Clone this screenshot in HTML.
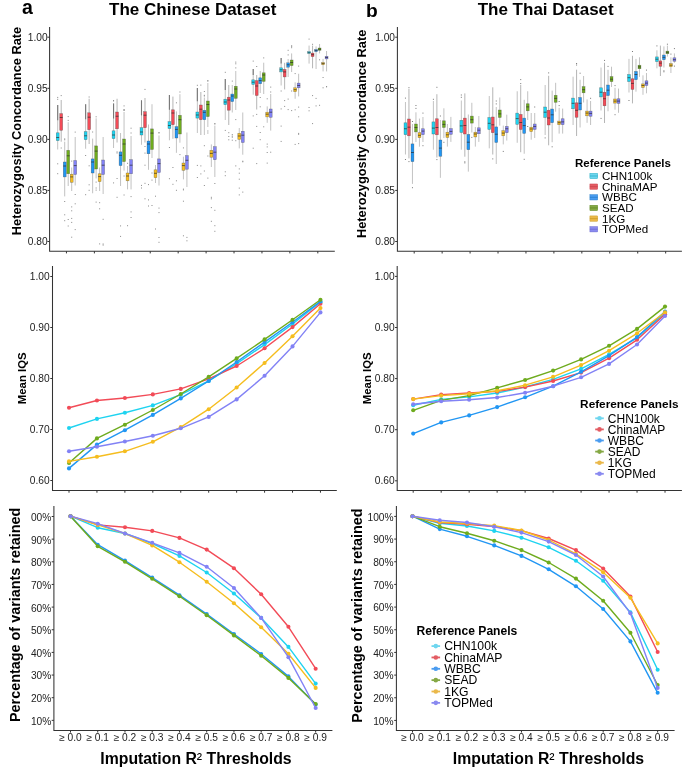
<!DOCTYPE html>
<html><head><meta charset="utf-8"><style>
html,body{margin:0;padding:0;background:#fff;}
svg{display:block;font-family:"Liberation Sans", sans-serif;will-change:transform;}
</style></head><body>
<svg width="685" height="767" viewBox="0 0 685 767">
<rect width="685" height="767" fill="#fff"/>
<text x="21.9" y="13.8" font-size="19.5" font-weight="bold" text-anchor="start" fill="#000" >a</text>
<text x="192.7" y="15.2" font-size="17" font-weight="bold" text-anchor="middle" fill="#000" >The Chinese Dataset</text>
<text x="365.9" y="16.8" font-size="19.2" font-weight="bold" text-anchor="start" fill="#000" >b</text>
<text x="545.7" y="15.2" font-size="17" font-weight="bold" text-anchor="middle" fill="#000" >The Thai Dataset</text>
<path d="M49.6,26.9V251.2H334.8" fill="none" stroke="#333" stroke-width="1.05"/>
<path d="M47.40,37.20H49.6" stroke="#333" stroke-width="1"/>
<path d="M47.40,88.30H49.6" stroke="#333" stroke-width="1"/>
<path d="M47.40,139.40H49.6" stroke="#333" stroke-width="1"/>
<path d="M47.40,190.40H49.6" stroke="#333" stroke-width="1"/>
<path d="M47.40,241.50H49.6" stroke="#333" stroke-width="1"/>
<path d="M66.45,251.2V253.40" stroke="#333" stroke-width="1"/>
<path d="M94.38,251.2V253.40" stroke="#333" stroke-width="1"/>
<path d="M122.31,251.2V253.40" stroke="#333" stroke-width="1"/>
<path d="M150.24,251.2V253.40" stroke="#333" stroke-width="1"/>
<path d="M178.17,251.2V253.40" stroke="#333" stroke-width="1"/>
<path d="M206.10,251.2V253.40" stroke="#333" stroke-width="1"/>
<path d="M234.03,251.2V253.40" stroke="#333" stroke-width="1"/>
<path d="M261.96,251.2V253.40" stroke="#333" stroke-width="1"/>
<path d="M289.89,251.2V253.40" stroke="#333" stroke-width="1"/>
<path d="M317.82,251.2V253.40" stroke="#333" stroke-width="1"/>
<text x="47.6" y="40.80" font-size="10.2" font-weight="normal" text-anchor="end" fill="#222" >1.00</text>
<text x="47.6" y="91.90" font-size="10.2" font-weight="normal" text-anchor="end" fill="#222" >0.95</text>
<text x="47.6" y="143.00" font-size="10.2" font-weight="normal" text-anchor="end" fill="#222" >0.90</text>
<text x="47.6" y="194.00" font-size="10.2" font-weight="normal" text-anchor="end" fill="#222" >0.85</text>
<text x="47.6" y="245.10" font-size="10.2" font-weight="normal" text-anchor="end" fill="#222" >0.80</text>
<path d="M57.70,105V149.5" stroke="#adadad" stroke-width="0.75"/>
<path d="M57.70,105V120.29" stroke="#777" stroke-width="1.1"/>
<rect x="57.20" y="173.2" width="1" height="1" fill="#8a8a8a"/>
<rect x="57.20" y="96.9" width="1" height="1" fill="#8a8a8a"/>
<rect x="57.20" y="98.8" width="1" height="1" fill="#8a8a8a"/>
<rect x="57.20" y="163.3" width="1" height="1" fill="#8a8a8a"/>
<path d="M61.20,100V141.7" stroke="#9c9c9c" stroke-width="0.75"/>
<rect x="60.70" y="147.5" width="1" height="1" fill="#8a8a8a"/>
<rect x="60.70" y="95.1" width="1" height="1" fill="#8a8a8a"/>
<path d="M64.70,141.7V196.4" stroke="#adadad" stroke-width="0.75"/>
<rect x="64.20" y="138.4" width="1" height="1" fill="#8a8a8a"/>
<rect x="64.20" y="220.2" width="1" height="1" fill="#8a8a8a"/>
<rect x="64.20" y="201.0" width="1" height="1" fill="#8a8a8a"/>
<rect x="64.20" y="214.3" width="1" height="1" fill="#8a8a8a"/>
<rect x="64.20" y="139.3" width="1" height="1" fill="#8a8a8a"/>
<path d="M68.20,122.2V186" stroke="#adadad" stroke-width="0.75"/>
<rect x="67.70" y="225.5" width="1" height="1" fill="#8a8a8a"/>
<rect x="67.70" y="116.1" width="1" height="1" fill="#8a8a8a"/>
<rect x="67.70" y="119.9" width="1" height="1" fill="#8a8a8a"/>
<rect x="67.70" y="219.0" width="1" height="1" fill="#8a8a8a"/>
<path d="M71.70,167.5V191" stroke="#adadad" stroke-width="0.75"/>
<rect x="71.20" y="160.6" width="1" height="1" fill="#8a8a8a"/>
<rect x="71.20" y="210.3" width="1" height="1" fill="#8a8a8a"/>
<rect x="71.20" y="217.9" width="1" height="1" fill="#8a8a8a"/>
<rect x="71.20" y="236.7" width="1" height="1" fill="#8a8a8a"/>
<rect x="71.20" y="206.4" width="1" height="1" fill="#8a8a8a"/>
<rect x="71.20" y="221.9" width="1" height="1" fill="#8a8a8a"/>
<path d="M75.20,137V185.5" stroke="#adadad" stroke-width="0.75"/>
<rect x="74.70" y="203.3" width="1" height="1" fill="#8a8a8a"/>
<rect x="74.70" y="194.0" width="1" height="1" fill="#8a8a8a"/>
<rect x="74.70" y="229.1" width="1" height="1" fill="#8a8a8a"/>
<rect x="74.70" y="131.6" width="1" height="1" fill="#8a8a8a"/>
<path d="M85.63,104.2V148.75" stroke="#adadad" stroke-width="0.75"/>
<path d="M85.63,104.2V119.27" stroke="#777" stroke-width="1.1"/>
<rect x="85.13" y="155.0" width="1" height="1" fill="#8a8a8a"/>
<rect x="85.13" y="194.2" width="1" height="1" fill="#8a8a8a"/>
<path d="M89.13,98.75V144" stroke="#9c9c9c" stroke-width="0.75"/>
<rect x="88.63" y="165.3" width="1" height="1" fill="#8a8a8a"/>
<rect x="88.63" y="189.8" width="1" height="1" fill="#8a8a8a"/>
<rect x="88.63" y="96.5" width="1" height="1" fill="#8a8a8a"/>
<rect x="88.63" y="184.3" width="1" height="1" fill="#8a8a8a"/>
<path d="M92.63,138.6V193.3" stroke="#adadad" stroke-width="0.75"/>
<rect x="92.13" y="131.5" width="1" height="1" fill="#8a8a8a"/>
<path d="M96.13,118.3V178.4" stroke="#adadad" stroke-width="0.75"/>
<rect x="95.63" y="201.6" width="1" height="1" fill="#8a8a8a"/>
<rect x="95.63" y="181.6" width="1" height="1" fill="#8a8a8a"/>
<rect x="95.63" y="189.6" width="1" height="1" fill="#8a8a8a"/>
<rect x="95.63" y="116.3" width="1" height="1" fill="#8a8a8a"/>
<rect x="95.63" y="187.5" width="1" height="1" fill="#8a8a8a"/>
<path d="M99.63,167.5V191" stroke="#adadad" stroke-width="0.75"/>
<rect x="99.13" y="243.4" width="1" height="1" fill="#8a8a8a"/>
<rect x="99.13" y="202.2" width="1" height="1" fill="#8a8a8a"/>
<rect x="99.13" y="208.3" width="1" height="1" fill="#8a8a8a"/>
<path d="M103.13,137V194" stroke="#adadad" stroke-width="0.75"/>
<rect x="102.63" y="243.5" width="1" height="1" fill="#8a8a8a"/>
<rect x="102.63" y="218.8" width="1" height="1" fill="#8a8a8a"/>
<rect x="102.63" y="244.6" width="1" height="1" fill="#8a8a8a"/>
<path d="M113.56,103.4V148" stroke="#adadad" stroke-width="0.75"/>
<path d="M113.56,103.4V118.47" stroke="#777" stroke-width="1.1"/>
<rect x="113.06" y="100.5" width="1" height="1" fill="#8a8a8a"/>
<rect x="113.06" y="100.0" width="1" height="1" fill="#8a8a8a"/>
<rect x="113.06" y="182.4" width="1" height="1" fill="#8a8a8a"/>
<path d="M117.06,98.75V142.5" stroke="#9c9c9c" stroke-width="0.75"/>
<rect x="116.56" y="152.5" width="1" height="1" fill="#8a8a8a"/>
<rect x="116.56" y="178.0" width="1" height="1" fill="#8a8a8a"/>
<rect x="116.56" y="151.4" width="1" height="1" fill="#8a8a8a"/>
<rect x="116.56" y="196.8" width="1" height="1" fill="#8a8a8a"/>
<path d="M120.56,133V186" stroke="#adadad" stroke-width="0.75"/>
<rect x="120.06" y="235.9" width="1" height="1" fill="#8a8a8a"/>
<rect x="120.06" y="225.4" width="1" height="1" fill="#8a8a8a"/>
<path d="M124.06,112V170.6" stroke="#adadad" stroke-width="0.75"/>
<rect x="123.56" y="194.5" width="1" height="1" fill="#8a8a8a"/>
<rect x="123.56" y="105.4" width="1" height="1" fill="#8a8a8a"/>
<rect x="123.56" y="110.0" width="1" height="1" fill="#8a8a8a"/>
<rect x="123.56" y="109.2" width="1" height="1" fill="#8a8a8a"/>
<rect x="123.56" y="175.5" width="1" height="1" fill="#8a8a8a"/>
<rect x="123.56" y="109.3" width="1" height="1" fill="#8a8a8a"/>
<path d="M127.56,166V189.4" stroke="#adadad" stroke-width="0.75"/>
<rect x="127.06" y="225.2" width="1" height="1" fill="#8a8a8a"/>
<rect x="127.06" y="162.8" width="1" height="1" fill="#8a8a8a"/>
<path d="M131.06,136V189.4" stroke="#adadad" stroke-width="0.75"/>
<rect x="130.56" y="132.5" width="1" height="1" fill="#8a8a8a"/>
<rect x="130.56" y="211.4" width="1" height="1" fill="#8a8a8a"/>
<rect x="130.56" y="127.7" width="1" height="1" fill="#8a8a8a"/>
<rect x="130.56" y="217.0" width="1" height="1" fill="#8a8a8a"/>
<rect x="130.56" y="196.1" width="1" height="1" fill="#8a8a8a"/>
<path d="M141.49,100.3V144.8" stroke="#adadad" stroke-width="0.75"/>
<path d="M141.49,100.3V115.37" stroke="#777" stroke-width="1.1"/>
<rect x="140.99" y="187.5" width="1" height="1" fill="#8a8a8a"/>
<rect x="140.99" y="184.9" width="1" height="1" fill="#8a8a8a"/>
<path d="M144.99,98V142.5" stroke="#9c9c9c" stroke-width="0.75"/>
<rect x="144.49" y="88.9" width="1" height="1" fill="#8a8a8a"/>
<rect x="144.49" y="152.6" width="1" height="1" fill="#8a8a8a"/>
<rect x="144.49" y="146.0" width="1" height="1" fill="#8a8a8a"/>
<rect x="144.49" y="198.3" width="1" height="1" fill="#8a8a8a"/>
<rect x="144.49" y="182.8" width="1" height="1" fill="#8a8a8a"/>
<rect x="144.49" y="164.7" width="1" height="1" fill="#8a8a8a"/>
<path d="M148.49,124.5V169.8" stroke="#adadad" stroke-width="0.75"/>
<rect x="147.99" y="184.1" width="1" height="1" fill="#8a8a8a"/>
<rect x="147.99" y="199.4" width="1" height="1" fill="#8a8a8a"/>
<rect x="147.99" y="205.5" width="1" height="1" fill="#8a8a8a"/>
<path d="M151.99,104.2V158" stroke="#adadad" stroke-width="0.75"/>
<rect x="151.49" y="205.0" width="1" height="1" fill="#8a8a8a"/>
<rect x="151.49" y="172.5" width="1" height="1" fill="#8a8a8a"/>
<rect x="151.49" y="179.6" width="1" height="1" fill="#8a8a8a"/>
<path d="M155.49,165V183" stroke="#adadad" stroke-width="0.75"/>
<rect x="154.99" y="228.5" width="1" height="1" fill="#8a8a8a"/>
<rect x="154.99" y="195.7" width="1" height="1" fill="#8a8a8a"/>
<path d="M158.99,135.5V185.5" stroke="#adadad" stroke-width="0.75"/>
<rect x="158.49" y="212.1" width="1" height="1" fill="#8a8a8a"/>
<rect x="158.49" y="241.8" width="1" height="1" fill="#8a8a8a"/>
<rect x="158.49" y="207.6" width="1" height="1" fill="#8a8a8a"/>
<rect x="158.49" y="132.2" width="1" height="1" fill="#8a8a8a"/>
<rect x="158.49" y="132.4" width="1" height="1" fill="#8a8a8a"/>
<rect x="158.49" y="237.0" width="1" height="1" fill="#8a8a8a"/>
<path d="M169.42,95V140.3" stroke="#adadad" stroke-width="0.75"/>
<path d="M169.42,95V109.63" stroke="#777" stroke-width="1.1"/>
<rect x="168.92" y="178.2" width="1" height="1" fill="#8a8a8a"/>
<rect x="168.92" y="147.0" width="1" height="1" fill="#8a8a8a"/>
<path d="M172.92,96.6V138.75" stroke="#9c9c9c" stroke-width="0.75"/>
<rect x="172.42" y="183.8" width="1" height="1" fill="#8a8a8a"/>
<rect x="172.42" y="167.0" width="1" height="1" fill="#8a8a8a"/>
<path d="M176.42,111.4V152.8" stroke="#adadad" stroke-width="0.75"/>
<rect x="175.92" y="189.8" width="1" height="1" fill="#8a8a8a"/>
<rect x="175.92" y="102.3" width="1" height="1" fill="#8a8a8a"/>
<rect x="175.92" y="180.3" width="1" height="1" fill="#8a8a8a"/>
<path d="M179.92,94.2V142.7" stroke="#adadad" stroke-width="0.75"/>
<rect x="179.42" y="154.1" width="1" height="1" fill="#8a8a8a"/>
<rect x="179.42" y="91.5" width="1" height="1" fill="#8a8a8a"/>
<path d="M183.42,156.7V179.4" stroke="#adadad" stroke-width="0.75"/>
<rect x="182.92" y="189.4" width="1" height="1" fill="#8a8a8a"/>
<rect x="182.92" y="235.3" width="1" height="1" fill="#8a8a8a"/>
<rect x="182.92" y="200.7" width="1" height="1" fill="#8a8a8a"/>
<rect x="182.92" y="188.6" width="1" height="1" fill="#8a8a8a"/>
<rect x="182.92" y="147.4" width="1" height="1" fill="#8a8a8a"/>
<path d="M186.92,132.5V187" stroke="#adadad" stroke-width="0.75"/>
<rect x="186.42" y="240.3" width="1" height="1" fill="#8a8a8a"/>
<rect x="186.42" y="236.9" width="1" height="1" fill="#8a8a8a"/>
<path d="M197.35,88V133" stroke="#adadad" stroke-width="0.75"/>
<path d="M197.35,88V101.20" stroke="#777" stroke-width="1.1"/>
<rect x="196.85" y="84.8" width="1" height="1" fill="#8a8a8a"/>
<rect x="196.85" y="177.0" width="1" height="1" fill="#8a8a8a"/>
<rect x="196.85" y="164.9" width="1" height="1" fill="#8a8a8a"/>
<path d="M200.85,92V135" stroke="#9c9c9c" stroke-width="0.75"/>
<rect x="200.35" y="84.6" width="1" height="1" fill="#8a8a8a"/>
<rect x="200.35" y="173.4" width="1" height="1" fill="#8a8a8a"/>
<rect x="200.35" y="165.4" width="1" height="1" fill="#8a8a8a"/>
<path d="M204.35,97.5V135" stroke="#adadad" stroke-width="0.75"/>
<rect x="203.85" y="94.8" width="1" height="1" fill="#8a8a8a"/>
<rect x="203.85" y="185.0" width="1" height="1" fill="#8a8a8a"/>
<rect x="203.85" y="170.5" width="1" height="1" fill="#8a8a8a"/>
<rect x="203.85" y="145.2" width="1" height="1" fill="#8a8a8a"/>
<rect x="203.85" y="91.0" width="1" height="1" fill="#8a8a8a"/>
<rect x="203.85" y="95.5" width="1" height="1" fill="#8a8a8a"/>
<path d="M207.85,83V127" stroke="#adadad" stroke-width="0.75"/>
<rect x="207.35" y="155.5" width="1" height="1" fill="#8a8a8a"/>
<rect x="207.35" y="177.6" width="1" height="1" fill="#8a8a8a"/>
<rect x="207.35" y="80.0" width="1" height="1" fill="#8a8a8a"/>
<rect x="207.35" y="80.7" width="1" height="1" fill="#8a8a8a"/>
<rect x="207.35" y="130.5" width="1" height="1" fill="#8a8a8a"/>
<rect x="207.35" y="132.5" width="1" height="1" fill="#8a8a8a"/>
<path d="M211.35,144.4V167" stroke="#adadad" stroke-width="0.75"/>
<rect x="210.85" y="196.8" width="1" height="1" fill="#8a8a8a"/>
<rect x="210.85" y="207.1" width="1" height="1" fill="#8a8a8a"/>
<rect x="210.85" y="198.3" width="1" height="1" fill="#8a8a8a"/>
<rect x="210.85" y="220.8" width="1" height="1" fill="#8a8a8a"/>
<path d="M214.85,125.6V177" stroke="#adadad" stroke-width="0.75"/>
<rect x="214.35" y="230.8" width="1" height="1" fill="#8a8a8a"/>
<rect x="214.35" y="209.8" width="1" height="1" fill="#8a8a8a"/>
<rect x="214.35" y="225.2" width="1" height="1" fill="#8a8a8a"/>
<rect x="214.35" y="123.1" width="1" height="1" fill="#8a8a8a"/>
<rect x="214.35" y="183.0" width="1" height="1" fill="#8a8a8a"/>
<rect x="214.35" y="123.5" width="1" height="1" fill="#8a8a8a"/>
<path d="M225.28,79V120" stroke="#adadad" stroke-width="0.75"/>
<path d="M225.28,79V90.11" stroke="#777" stroke-width="1.1"/>
<rect x="224.78" y="171.3" width="1" height="1" fill="#8a8a8a"/>
<rect x="224.78" y="71.8" width="1" height="1" fill="#8a8a8a"/>
<rect x="224.78" y="129.9" width="1" height="1" fill="#8a8a8a"/>
<rect x="224.78" y="175.2" width="1" height="1" fill="#8a8a8a"/>
<path d="M228.78,85V125" stroke="#9c9c9c" stroke-width="0.75"/>
<rect x="228.28" y="132.2" width="1" height="1" fill="#8a8a8a"/>
<rect x="228.28" y="136.0" width="1" height="1" fill="#8a8a8a"/>
<rect x="228.28" y="139.3" width="1" height="1" fill="#8a8a8a"/>
<path d="M232.28,85V112.5" stroke="#adadad" stroke-width="0.75"/>
<rect x="231.78" y="136.7" width="1" height="1" fill="#8a8a8a"/>
<rect x="231.78" y="134.1" width="1" height="1" fill="#8a8a8a"/>
<rect x="231.78" y="80.6" width="1" height="1" fill="#8a8a8a"/>
<rect x="231.78" y="139.7" width="1" height="1" fill="#8a8a8a"/>
<rect x="231.78" y="135.6" width="1" height="1" fill="#8a8a8a"/>
<path d="M235.78,71V110" stroke="#adadad" stroke-width="0.75"/>
<rect x="235.28" y="140.2" width="1" height="1" fill="#8a8a8a"/>
<rect x="235.28" y="61.6" width="1" height="1" fill="#8a8a8a"/>
<rect x="235.28" y="165.4" width="1" height="1" fill="#8a8a8a"/>
<rect x="235.28" y="67.4" width="1" height="1" fill="#8a8a8a"/>
<rect x="235.28" y="63.3" width="1" height="1" fill="#8a8a8a"/>
<rect x="235.28" y="119.1" width="1" height="1" fill="#8a8a8a"/>
<path d="M239.28,128V148.4" stroke="#adadad" stroke-width="0.75"/>
<rect x="238.78" y="187.6" width="1" height="1" fill="#8a8a8a"/>
<rect x="238.78" y="172.7" width="1" height="1" fill="#8a8a8a"/>
<rect x="238.78" y="178.7" width="1" height="1" fill="#8a8a8a"/>
<rect x="238.78" y="168.4" width="1" height="1" fill="#8a8a8a"/>
<rect x="238.78" y="194.4" width="1" height="1" fill="#8a8a8a"/>
<path d="M242.78,112.5V154.7" stroke="#adadad" stroke-width="0.75"/>
<rect x="242.28" y="160.7" width="1" height="1" fill="#8a8a8a"/>
<rect x="242.28" y="191.6" width="1" height="1" fill="#8a8a8a"/>
<rect x="242.28" y="161.3" width="1" height="1" fill="#8a8a8a"/>
<path d="M253.21,69V94.7" stroke="#adadad" stroke-width="0.75"/>
<path d="M253.21,69V74.94" stroke="#777" stroke-width="1.1"/>
<rect x="252.71" y="60.6" width="1" height="1" fill="#8a8a8a"/>
<rect x="252.71" y="115.4" width="1" height="1" fill="#8a8a8a"/>
<rect x="252.71" y="147.7" width="1" height="1" fill="#8a8a8a"/>
<path d="M256.71,75V109.5" stroke="#9c9c9c" stroke-width="0.75"/>
<rect x="256.21" y="113.9" width="1" height="1" fill="#8a8a8a"/>
<rect x="256.21" y="163.1" width="1" height="1" fill="#8a8a8a"/>
<rect x="256.21" y="125.9" width="1" height="1" fill="#8a8a8a"/>
<rect x="256.21" y="66.0" width="1" height="1" fill="#8a8a8a"/>
<path d="M260.21,71V93" stroke="#adadad" stroke-width="0.75"/>
<rect x="259.71" y="106.3" width="1" height="1" fill="#8a8a8a"/>
<rect x="259.71" y="132.0" width="1" height="1" fill="#8a8a8a"/>
<rect x="259.71" y="139.2" width="1" height="1" fill="#8a8a8a"/>
<rect x="259.71" y="97.0" width="1" height="1" fill="#8a8a8a"/>
<path d="M263.71,62.7V94" stroke="#adadad" stroke-width="0.75"/>
<rect x="263.21" y="126.3" width="1" height="1" fill="#8a8a8a"/>
<rect x="263.21" y="57.4" width="1" height="1" fill="#8a8a8a"/>
<path d="M267.21,106.4V122.8" stroke="#adadad" stroke-width="0.75"/>
<rect x="266.71" y="98.3" width="1" height="1" fill="#8a8a8a"/>
<rect x="266.71" y="152.0" width="1" height="1" fill="#8a8a8a"/>
<rect x="266.71" y="146.4" width="1" height="1" fill="#8a8a8a"/>
<rect x="266.71" y="162.6" width="1" height="1" fill="#8a8a8a"/>
<rect x="266.71" y="143.6" width="1" height="1" fill="#8a8a8a"/>
<path d="M270.71,94V130.6" stroke="#adadad" stroke-width="0.75"/>
<rect x="270.21" y="151.7" width="1" height="1" fill="#8a8a8a"/>
<rect x="270.21" y="91.5" width="1" height="1" fill="#8a8a8a"/>
<rect x="270.21" y="86.6" width="1" height="1" fill="#8a8a8a"/>
<path d="M281.14,58V85.5" stroke="#adadad" stroke-width="0.75"/>
<path d="M281.14,58V63.39" stroke="#777" stroke-width="1.1"/>
<rect x="280.64" y="90.5" width="1" height="1" fill="#8a8a8a"/>
<rect x="280.64" y="108.4" width="1" height="1" fill="#8a8a8a"/>
<rect x="280.64" y="140.9" width="1" height="1" fill="#8a8a8a"/>
<rect x="280.64" y="125.6" width="1" height="1" fill="#8a8a8a"/>
<path d="M284.64,62.8V89.4" stroke="#9c9c9c" stroke-width="0.75"/>
<rect x="284.14" y="100.1" width="1" height="1" fill="#8a8a8a"/>
<rect x="284.14" y="105.9" width="1" height="1" fill="#8a8a8a"/>
<path d="M288.14,59V77" stroke="#adadad" stroke-width="0.75"/>
<rect x="287.64" y="109.1" width="1" height="1" fill="#8a8a8a"/>
<rect x="287.64" y="49.8" width="1" height="1" fill="#8a8a8a"/>
<rect x="287.64" y="98.6" width="1" height="1" fill="#8a8a8a"/>
<rect x="287.64" y="54.4" width="1" height="1" fill="#8a8a8a"/>
<path d="M291.64,53.4V72" stroke="#adadad" stroke-width="0.75"/>
<rect x="291.14" y="110.1" width="1" height="1" fill="#8a8a8a"/>
<rect x="291.14" y="45.7" width="1" height="1" fill="#8a8a8a"/>
<rect x="291.14" y="45.4" width="1" height="1" fill="#8a8a8a"/>
<rect x="291.14" y="47.2" width="1" height="1" fill="#8a8a8a"/>
<rect x="291.14" y="90.5" width="1" height="1" fill="#8a8a8a"/>
<path d="M295.14,82.3V98.75" stroke="#adadad" stroke-width="0.75"/>
<rect x="294.64" y="73.1" width="1" height="1" fill="#8a8a8a"/>
<rect x="294.64" y="109.3" width="1" height="1" fill="#8a8a8a"/>
<rect x="294.64" y="143.9" width="1" height="1" fill="#8a8a8a"/>
<path d="M298.64,73.75V96.4" stroke="#adadad" stroke-width="0.75"/>
<rect x="298.14" y="116.3" width="1" height="1" fill="#8a8a8a"/>
<rect x="298.14" y="106.6" width="1" height="1" fill="#8a8a8a"/>
<rect x="298.14" y="133.8" width="1" height="1" fill="#8a8a8a"/>
<rect x="298.14" y="65.6" width="1" height="1" fill="#8a8a8a"/>
<rect x="298.14" y="132.9" width="1" height="1" fill="#8a8a8a"/>
<rect x="298.14" y="143.1" width="1" height="1" fill="#8a8a8a"/>
<path d="M309.07,45.6V63.6" stroke="#adadad" stroke-width="0.75"/>
<rect x="308.57" y="107.0" width="1" height="1" fill="#8a8a8a"/>
<rect x="308.57" y="110.3" width="1" height="1" fill="#8a8a8a"/>
<rect x="308.57" y="38.6" width="1" height="1" fill="#8a8a8a"/>
<path d="M312.57,45.6V68.3" stroke="#9c9c9c" stroke-width="0.75"/>
<rect x="312.07" y="43.8" width="1" height="1" fill="#8a8a8a"/>
<rect x="312.07" y="123.1" width="1" height="1" fill="#8a8a8a"/>
<rect x="312.07" y="95.1" width="1" height="1" fill="#8a8a8a"/>
<path d="M316.07,46.4V69" stroke="#adadad" stroke-width="0.75"/>
<rect x="315.57" y="105.4" width="1" height="1" fill="#8a8a8a"/>
<rect x="315.57" y="97.9" width="1" height="1" fill="#8a8a8a"/>
<path d="M319.57,44V53.4" stroke="#adadad" stroke-width="0.75"/>
<rect x="319.07" y="59.3" width="1" height="1" fill="#8a8a8a"/>
<rect x="319.07" y="104.8" width="1" height="1" fill="#8a8a8a"/>
<path d="M323.07,58.9V71.4" stroke="#adadad" stroke-width="0.75"/>
<rect x="322.57" y="77.0" width="1" height="1" fill="#8a8a8a"/>
<rect x="322.57" y="87.3" width="1" height="1" fill="#8a8a8a"/>
<path d="M326.57,51V71.4" stroke="#adadad" stroke-width="0.75"/>
<rect x="326.07" y="86.3" width="1" height="1" fill="#8a8a8a"/>
<rect x="326.07" y="86.1" width="1" height="1" fill="#8a8a8a"/>
<rect x="56.25" y="132.8" width="2.90" height="7.80" fill="#1ed3f0" stroke="#3a3a3a" stroke-opacity="0.55" stroke-width="0.5"/>
<path d="M56.25,137.5h2.90" stroke="#2a2a2a" stroke-opacity="0.8" stroke-width="0.85"/>
<rect x="59.75" y="113.6" width="2.90" height="16.70" fill="#f24b57" stroke="#3a3a3a" stroke-opacity="0.55" stroke-width="0.5"/>
<path d="M59.75,117.5h2.90" stroke="#2a2a2a" stroke-opacity="0.8" stroke-width="0.85"/>
<rect x="63.25" y="162" width="2.90" height="14.90" fill="#2196f3" stroke="#3a3a3a" stroke-opacity="0.55" stroke-width="0.5"/>
<path d="M63.25,166h2.90" stroke="#2a2a2a" stroke-opacity="0.8" stroke-width="0.85"/>
<rect x="66.75" y="150.3" width="2.90" height="23.45" fill="#6eab1e" stroke="#3a3a3a" stroke-opacity="0.55" stroke-width="0.5"/>
<path d="M66.75,155.8h2.90" stroke="#2a2a2a" stroke-opacity="0.8" stroke-width="0.85"/>
<rect x="70.25" y="174.2" width="2.90" height="8.10" fill="#f5bd1f" stroke="#3a3a3a" stroke-opacity="0.55" stroke-width="0.5"/>
<path d="M70.25,176.9h2.90" stroke="#2a2a2a" stroke-opacity="0.8" stroke-width="0.85"/>
<rect x="73.75" y="160.5" width="2.90" height="14.00" fill="#8282f5" stroke="#3a3a3a" stroke-opacity="0.55" stroke-width="0.5"/>
<path d="M73.75,165.6h2.90" stroke="#2a2a2a" stroke-opacity="0.8" stroke-width="0.85"/>
<rect x="84.18" y="131.6" width="2.90" height="8.10" fill="#1ed3f0" stroke="#3a3a3a" stroke-opacity="0.55" stroke-width="0.5"/>
<path d="M84.18,135.8h2.90" stroke="#2a2a2a" stroke-opacity="0.8" stroke-width="0.85"/>
<rect x="87.68" y="112.8" width="2.90" height="16.90" fill="#f24b57" stroke="#3a3a3a" stroke-opacity="0.55" stroke-width="0.5"/>
<path d="M87.68,117.2h2.90" stroke="#2a2a2a" stroke-opacity="0.8" stroke-width="0.85"/>
<rect x="91.18" y="158.9" width="2.90" height="14.10" fill="#2196f3" stroke="#3a3a3a" stroke-opacity="0.55" stroke-width="0.5"/>
<path d="M91.18,162h2.90" stroke="#2a2a2a" stroke-opacity="0.8" stroke-width="0.85"/>
<rect x="94.68" y="145.9" width="2.90" height="23.10" fill="#6eab1e" stroke="#3a3a3a" stroke-opacity="0.55" stroke-width="0.5"/>
<path d="M94.68,151.1h2.90" stroke="#2a2a2a" stroke-opacity="0.8" stroke-width="0.85"/>
<rect x="98.18" y="173.75" width="2.90" height="7.85" fill="#f5bd1f" stroke="#3a3a3a" stroke-opacity="0.55" stroke-width="0.5"/>
<path d="M98.18,176.6h2.90" stroke="#2a2a2a" stroke-opacity="0.8" stroke-width="0.85"/>
<rect x="101.68" y="160" width="2.90" height="14.50" fill="#8282f5" stroke="#3a3a3a" stroke-opacity="0.55" stroke-width="0.5"/>
<path d="M101.68,165.2h2.90" stroke="#2a2a2a" stroke-opacity="0.8" stroke-width="0.85"/>
<rect x="112.11" y="130.8" width="2.90" height="7.80" fill="#1ed3f0" stroke="#3a3a3a" stroke-opacity="0.55" stroke-width="0.5"/>
<path d="M112.11,135h2.90" stroke="#2a2a2a" stroke-opacity="0.8" stroke-width="0.85"/>
<rect x="115.61" y="112" width="2.90" height="16.75" fill="#f24b57" stroke="#3a3a3a" stroke-opacity="0.55" stroke-width="0.5"/>
<path d="M115.61,116.25h2.90" stroke="#2a2a2a" stroke-opacity="0.8" stroke-width="0.85"/>
<rect x="119.11" y="151.9" width="2.90" height="13.70" fill="#2196f3" stroke="#3a3a3a" stroke-opacity="0.55" stroke-width="0.5"/>
<path d="M119.11,155.3h2.90" stroke="#2a2a2a" stroke-opacity="0.8" stroke-width="0.85"/>
<rect x="122.61" y="139" width="2.90" height="22.60" fill="#6eab1e" stroke="#3a3a3a" stroke-opacity="0.55" stroke-width="0.5"/>
<path d="M122.61,144h2.90" stroke="#2a2a2a" stroke-opacity="0.8" stroke-width="0.85"/>
<rect x="126.11" y="173" width="2.90" height="7.80" fill="#f5bd1f" stroke="#3a3a3a" stroke-opacity="0.55" stroke-width="0.5"/>
<path d="M126.11,176h2.90" stroke="#2a2a2a" stroke-opacity="0.8" stroke-width="0.85"/>
<rect x="129.61" y="159.7" width="2.90" height="14.05" fill="#8282f5" stroke="#3a3a3a" stroke-opacity="0.55" stroke-width="0.5"/>
<path d="M129.61,165.2h2.90" stroke="#2a2a2a" stroke-opacity="0.8" stroke-width="0.85"/>
<rect x="140.04" y="127.7" width="2.90" height="7.30" fill="#1ed3f0" stroke="#3a3a3a" stroke-opacity="0.55" stroke-width="0.5"/>
<path d="M140.04,132h2.90" stroke="#2a2a2a" stroke-opacity="0.8" stroke-width="0.85"/>
<rect x="143.54" y="111.7" width="2.90" height="16.00" fill="#f24b57" stroke="#3a3a3a" stroke-opacity="0.55" stroke-width="0.5"/>
<path d="M143.54,115.2h2.90" stroke="#2a2a2a" stroke-opacity="0.8" stroke-width="0.85"/>
<rect x="147.04" y="141" width="2.90" height="12.75" fill="#2196f3" stroke="#3a3a3a" stroke-opacity="0.55" stroke-width="0.5"/>
<path d="M147.04,144h2.90" stroke="#2a2a2a" stroke-opacity="0.8" stroke-width="0.85"/>
<rect x="150.54" y="128.9" width="2.90" height="20.60" fill="#6eab1e" stroke="#3a3a3a" stroke-opacity="0.55" stroke-width="0.5"/>
<path d="M150.54,133.1h2.90" stroke="#2a2a2a" stroke-opacity="0.8" stroke-width="0.85"/>
<rect x="154.04" y="169.8" width="2.90" height="7.90" fill="#f5bd1f" stroke="#3a3a3a" stroke-opacity="0.55" stroke-width="0.5"/>
<path d="M154.04,173.3h2.90" stroke="#2a2a2a" stroke-opacity="0.8" stroke-width="0.85"/>
<rect x="157.54" y="158.9" width="2.90" height="13.60" fill="#8282f5" stroke="#3a3a3a" stroke-opacity="0.55" stroke-width="0.5"/>
<path d="M157.54,163.6h2.90" stroke="#2a2a2a" stroke-opacity="0.8" stroke-width="0.85"/>
<rect x="167.97" y="121.6" width="2.90" height="7.00" fill="#1ed3f0" stroke="#3a3a3a" stroke-opacity="0.55" stroke-width="0.5"/>
<path d="M167.97,125.5h2.90" stroke="#2a2a2a" stroke-opacity="0.8" stroke-width="0.85"/>
<rect x="171.47" y="109.8" width="2.90" height="14.90" fill="#f24b57" stroke="#3a3a3a" stroke-opacity="0.55" stroke-width="0.5"/>
<path d="M171.47,113h2.90" stroke="#2a2a2a" stroke-opacity="0.8" stroke-width="0.85"/>
<rect x="174.97" y="126.6" width="2.90" height="11.40" fill="#2196f3" stroke="#3a3a3a" stroke-opacity="0.55" stroke-width="0.5"/>
<path d="M174.97,129.4h2.90" stroke="#2a2a2a" stroke-opacity="0.8" stroke-width="0.85"/>
<rect x="178.47" y="115.3" width="2.90" height="18.70" fill="#6eab1e" stroke="#3a3a3a" stroke-opacity="0.55" stroke-width="0.5"/>
<path d="M178.47,119.7h2.90" stroke="#2a2a2a" stroke-opacity="0.8" stroke-width="0.85"/>
<rect x="181.97" y="163" width="2.90" height="7.30" fill="#f5bd1f" stroke="#3a3a3a" stroke-opacity="0.55" stroke-width="0.5"/>
<path d="M181.97,165.6h2.90" stroke="#2a2a2a" stroke-opacity="0.8" stroke-width="0.85"/>
<rect x="185.47" y="155.6" width="2.90" height="13.60" fill="#8282f5" stroke="#3a3a3a" stroke-opacity="0.55" stroke-width="0.5"/>
<path d="M185.47,160.3h2.90" stroke="#2a2a2a" stroke-opacity="0.8" stroke-width="0.85"/>
<rect x="195.90" y="112" width="2.90" height="6.10" fill="#1ed3f0" stroke="#3a3a3a" stroke-opacity="0.55" stroke-width="0.5"/>
<path d="M195.90,115h2.90" stroke="#2a2a2a" stroke-opacity="0.8" stroke-width="0.85"/>
<rect x="199.40" y="105" width="2.90" height="14.70" fill="#f24b57" stroke="#3a3a3a" stroke-opacity="0.55" stroke-width="0.5"/>
<path d="M199.40,109.2h2.90" stroke="#2a2a2a" stroke-opacity="0.8" stroke-width="0.85"/>
<rect x="202.90" y="110.3" width="2.90" height="9.40" fill="#2196f3" stroke="#3a3a3a" stroke-opacity="0.55" stroke-width="0.5"/>
<path d="M202.90,112.3h2.90" stroke="#2a2a2a" stroke-opacity="0.8" stroke-width="0.85"/>
<rect x="206.40" y="101" width="2.90" height="15.60" fill="#6eab1e" stroke="#3a3a3a" stroke-opacity="0.55" stroke-width="0.5"/>
<path d="M206.40,104.5h2.90" stroke="#2a2a2a" stroke-opacity="0.8" stroke-width="0.85"/>
<rect x="209.90" y="150.3" width="2.90" height="6.90" fill="#f5bd1f" stroke="#3a3a3a" stroke-opacity="0.55" stroke-width="0.5"/>
<path d="M209.90,153.4h2.90" stroke="#2a2a2a" stroke-opacity="0.8" stroke-width="0.85"/>
<rect x="213.40" y="146.7" width="2.90" height="13.00" fill="#8282f5" stroke="#3a3a3a" stroke-opacity="0.55" stroke-width="0.5"/>
<path d="M213.40,152.2h2.90" stroke="#2a2a2a" stroke-opacity="0.8" stroke-width="0.85"/>
<rect x="223.83" y="99.2" width="2.90" height="5.50" fill="#1ed3f0" stroke="#3a3a3a" stroke-opacity="0.55" stroke-width="0.5"/>
<path d="M223.83,102h2.90" stroke="#2a2a2a" stroke-opacity="0.8" stroke-width="0.85"/>
<rect x="227.33" y="97.2" width="2.90" height="13.00" fill="#f24b57" stroke="#3a3a3a" stroke-opacity="0.55" stroke-width="0.5"/>
<path d="M227.33,100h2.90" stroke="#2a2a2a" stroke-opacity="0.8" stroke-width="0.85"/>
<rect x="230.83" y="94" width="2.90" height="7.60" fill="#2196f3" stroke="#3a3a3a" stroke-opacity="0.55" stroke-width="0.5"/>
<path d="M230.83,96h2.90" stroke="#2a2a2a" stroke-opacity="0.8" stroke-width="0.85"/>
<rect x="234.33" y="86.25" width="2.90" height="12.15" fill="#6eab1e" stroke="#3a3a3a" stroke-opacity="0.55" stroke-width="0.5"/>
<path d="M234.33,89h2.90" stroke="#2a2a2a" stroke-opacity="0.8" stroke-width="0.85"/>
<rect x="237.83" y="133.3" width="2.90" height="6.10" fill="#f5bd1f" stroke="#3a3a3a" stroke-opacity="0.55" stroke-width="0.5"/>
<path d="M237.83,136h2.90" stroke="#2a2a2a" stroke-opacity="0.8" stroke-width="0.85"/>
<rect x="241.33" y="131.25" width="2.90" height="11.25" fill="#8282f5" stroke="#3a3a3a" stroke-opacity="0.55" stroke-width="0.5"/>
<path d="M241.33,135.2h2.90" stroke="#2a2a2a" stroke-opacity="0.8" stroke-width="0.85"/>
<rect x="251.76" y="79.8" width="2.90" height="4.70" fill="#1ed3f0" stroke="#3a3a3a" stroke-opacity="0.55" stroke-width="0.5"/>
<path d="M251.76,82.2h2.90" stroke="#2a2a2a" stroke-opacity="0.8" stroke-width="0.85"/>
<rect x="255.26" y="80.6" width="2.90" height="14.90" fill="#f24b57" stroke="#3a3a3a" stroke-opacity="0.55" stroke-width="0.5"/>
<path d="M255.26,86h2.90" stroke="#2a2a2a" stroke-opacity="0.8" stroke-width="0.85"/>
<rect x="258.76" y="77.8" width="2.90" height="5.95" fill="#2196f3" stroke="#3a3a3a" stroke-opacity="0.55" stroke-width="0.5"/>
<path d="M258.76,80.6h2.90" stroke="#2a2a2a" stroke-opacity="0.8" stroke-width="0.85"/>
<rect x="262.26" y="72.8" width="2.90" height="8.60" fill="#6eab1e" stroke="#3a3a3a" stroke-opacity="0.55" stroke-width="0.5"/>
<path d="M262.26,75h2.90" stroke="#2a2a2a" stroke-opacity="0.8" stroke-width="0.85"/>
<rect x="265.76" y="112.2" width="2.90" height="4.70" fill="#f5bd1f" stroke="#3a3a3a" stroke-opacity="0.55" stroke-width="0.5"/>
<path d="M265.76,114.2h2.90" stroke="#2a2a2a" stroke-opacity="0.8" stroke-width="0.85"/>
<rect x="269.26" y="109" width="2.90" height="8.30" fill="#8282f5" stroke="#3a3a3a" stroke-opacity="0.55" stroke-width="0.5"/>
<path d="M269.26,112.2h2.90" stroke="#2a2a2a" stroke-opacity="0.8" stroke-width="0.85"/>
<rect x="279.69" y="67.8" width="2.90" height="4.10" fill="#1ed3f0" stroke="#3a3a3a" stroke-opacity="0.55" stroke-width="0.5"/>
<path d="M279.69,69.8h2.90" stroke="#2a2a2a" stroke-opacity="0.8" stroke-width="0.85"/>
<rect x="283.19" y="69.4" width="2.90" height="7.50" fill="#f24b57" stroke="#3a3a3a" stroke-opacity="0.55" stroke-width="0.5"/>
<path d="M283.19,71.9h2.90" stroke="#2a2a2a" stroke-opacity="0.8" stroke-width="0.85"/>
<rect x="286.69" y="62.8" width="2.90" height="4.40" fill="#2196f3" stroke="#3a3a3a" stroke-opacity="0.55" stroke-width="0.5"/>
<path d="M286.69,64.8h2.90" stroke="#2a2a2a" stroke-opacity="0.8" stroke-width="0.85"/>
<rect x="290.19" y="60" width="2.90" height="5.60" fill="#6eab1e" stroke="#3a3a3a" stroke-opacity="0.55" stroke-width="0.5"/>
<path d="M290.19,62.5h2.90" stroke="#2a2a2a" stroke-opacity="0.8" stroke-width="0.85"/>
<rect x="293.69" y="87.8" width="2.90" height="3.90" fill="#f5bd1f" stroke="#3a3a3a" stroke-opacity="0.55" stroke-width="0.5"/>
<path d="M293.69,89.7h2.90" stroke="#2a2a2a" stroke-opacity="0.8" stroke-width="0.85"/>
<rect x="297.19" y="83.1" width="2.90" height="4.70" fill="#8282f5" stroke="#3a3a3a" stroke-opacity="0.55" stroke-width="0.5"/>
<path d="M297.19,85.5h2.90" stroke="#2a2a2a" stroke-opacity="0.8" stroke-width="0.85"/>
<rect x="307.62" y="51.6" width="2.90" height="1.80" fill="#1ed3f0" stroke="#3a3a3a" stroke-opacity="0.55" stroke-width="0.5"/>
<path d="M307.62,52.7h2.90" stroke="#2a2a2a" stroke-opacity="0.8" stroke-width="0.85"/>
<rect x="311.12" y="53.1" width="2.90" height="3.50" fill="#f24b57" stroke="#3a3a3a" stroke-opacity="0.55" stroke-width="0.5"/>
<path d="M311.12,54.7h2.90" stroke="#2a2a2a" stroke-opacity="0.8" stroke-width="0.85"/>
<rect x="314.62" y="49.5" width="2.90" height="2.10" fill="#2196f3" stroke="#3a3a3a" stroke-opacity="0.55" stroke-width="0.5"/>
<path d="M314.62,50.6h2.90" stroke="#2a2a2a" stroke-opacity="0.8" stroke-width="0.85"/>
<rect x="318.12" y="48" width="2.90" height="2.30" fill="#6eab1e" stroke="#3a3a3a" stroke-opacity="0.55" stroke-width="0.5"/>
<path d="M318.12,49.2h2.90" stroke="#2a2a2a" stroke-opacity="0.8" stroke-width="0.85"/>
<rect x="321.62" y="62.5" width="2.90" height="2.20" fill="#f5bd1f" stroke="#3a3a3a" stroke-opacity="0.55" stroke-width="0.5"/>
<path d="M321.62,63.6h2.90" stroke="#2a2a2a" stroke-opacity="0.8" stroke-width="0.85"/>
<rect x="325.12" y="56.25" width="2.90" height="2.65" fill="#8282f5" stroke="#3a3a3a" stroke-opacity="0.55" stroke-width="0.5"/>
<path d="M325.12,57.5h2.90" stroke="#2a2a2a" stroke-opacity="0.8" stroke-width="0.85"/>
<text transform="translate(20.9,131) rotate(-90)" x="0" y="0" font-size="12.8" font-weight="bold" text-anchor="middle" fill="#000">Heterozygosity Concordance Rate</text>
<path d="M397.4,26.9V251.3H681.9" fill="none" stroke="#333" stroke-width="1.05"/>
<path d="M395.20,37.20H397.4" stroke="#333" stroke-width="1"/>
<path d="M395.20,88.30H397.4" stroke="#333" stroke-width="1"/>
<path d="M395.20,139.40H397.4" stroke="#333" stroke-width="1"/>
<path d="M395.20,190.40H397.4" stroke="#333" stroke-width="1"/>
<path d="M395.20,241.50H397.4" stroke="#333" stroke-width="1"/>
<path d="M414.20,251.3V253.50" stroke="#333" stroke-width="1"/>
<path d="M442.14,251.3V253.50" stroke="#333" stroke-width="1"/>
<path d="M470.08,251.3V253.50" stroke="#333" stroke-width="1"/>
<path d="M498.02,251.3V253.50" stroke="#333" stroke-width="1"/>
<path d="M525.96,251.3V253.50" stroke="#333" stroke-width="1"/>
<path d="M553.90,251.3V253.50" stroke="#333" stroke-width="1"/>
<path d="M581.84,251.3V253.50" stroke="#333" stroke-width="1"/>
<path d="M609.78,251.3V253.50" stroke="#333" stroke-width="1"/>
<path d="M637.72,251.3V253.50" stroke="#333" stroke-width="1"/>
<path d="M665.66,251.3V253.50" stroke="#333" stroke-width="1"/>
<text x="395" y="40.80" font-size="10.2" font-weight="normal" text-anchor="end" fill="#222" >1.00</text>
<text x="395" y="91.90" font-size="10.2" font-weight="normal" text-anchor="end" fill="#222" >0.95</text>
<text x="395" y="143.00" font-size="10.2" font-weight="normal" text-anchor="end" fill="#222" >0.90</text>
<text x="395" y="194.00" font-size="10.2" font-weight="normal" text-anchor="end" fill="#222" >0.85</text>
<text x="395" y="245.10" font-size="10.2" font-weight="normal" text-anchor="end" fill="#222" >0.80</text>
<path d="M405.45,102V154.5" stroke="#adadad" stroke-width="0.75"/>
<rect x="404.95" y="159.0" width="1" height="1" fill="#777"/>
<rect x="404.95" y="97.6" width="1" height="1" fill="#777"/>
<path d="M408.95,89V158.4" stroke="#9c9c9c" stroke-width="0.75"/>
<rect x="408.45" y="87.2" width="1" height="1" fill="#777"/>
<rect x="408.45" y="161.1" width="1" height="1" fill="#777"/>
<path d="M412.45,124V183.9" stroke="#adadad" stroke-width="0.75"/>
<rect x="411.95" y="121.0" width="1" height="1" fill="#777"/>
<rect x="411.95" y="187.2" width="1" height="1" fill="#777"/>
<path d="M415.95,112.3V142" stroke="#adadad" stroke-width="0.75"/>
<rect x="415.45" y="107.9" width="1" height="1" fill="#777"/>
<rect x="415.45" y="105.0" width="1" height="1" fill="#777"/>
<path d="M419.45,118.6V146.7" stroke="#adadad" stroke-width="0.75"/>
<path d="M422.95,117V142" stroke="#adadad" stroke-width="0.75"/>
<rect x="422.45" y="112.6" width="1" height="1" fill="#777"/>
<rect x="422.45" y="145.2" width="1" height="1" fill="#777"/>
<path d="M433.39,101V149.7" stroke="#adadad" stroke-width="0.75"/>
<rect x="432.89" y="98.8" width="1" height="1" fill="#777"/>
<path d="M436.89,94.2V157.5" stroke="#9c9c9c" stroke-width="0.75"/>
<rect x="436.39" y="86.8" width="1" height="1" fill="#777"/>
<rect x="436.39" y="159.1" width="1" height="1" fill="#777"/>
<path d="M440.39,120V177.8" stroke="#adadad" stroke-width="0.75"/>
<rect x="439.89" y="115.5" width="1" height="1" fill="#777"/>
<path d="M443.89,108.3V138" stroke="#adadad" stroke-width="0.75"/>
<rect x="443.39" y="141.8" width="1" height="1" fill="#777"/>
<path d="M447.39,124V146.6" stroke="#adadad" stroke-width="0.75"/>
<path d="M450.89,116.9V141.9" stroke="#adadad" stroke-width="0.75"/>
<path d="M461.33,100.5V149.7" stroke="#adadad" stroke-width="0.75"/>
<rect x="460.83" y="94.5" width="1" height="1" fill="#777"/>
<rect x="460.83" y="96.8" width="1" height="1" fill="#777"/>
<path d="M464.83,93.4V156.7" stroke="#9c9c9c" stroke-width="0.75"/>
<rect x="464.33" y="161.3" width="1" height="1" fill="#777"/>
<rect x="464.33" y="162.4" width="1" height="1" fill="#777"/>
<path d="M468.33,114.5V171.6" stroke="#adadad" stroke-width="0.75"/>
<path d="M471.83,102.8V132.5" stroke="#adadad" stroke-width="0.75"/>
<rect x="471.33" y="136.9" width="1" height="1" fill="#777"/>
<path d="M475.33,127V146.6" stroke="#adadad" stroke-width="0.75"/>
<path d="M478.83,116V141.9" stroke="#adadad" stroke-width="0.75"/>
<path d="M489.27,96V148.3" stroke="#adadad" stroke-width="0.75"/>
<path d="M492.77,87.3V154.5" stroke="#9c9c9c" stroke-width="0.75"/>
<rect x="492.27" y="158.4" width="1" height="1" fill="#777"/>
<path d="M496.27,107V164" stroke="#adadad" stroke-width="0.75"/>
<rect x="495.77" y="103.4" width="1" height="1" fill="#777"/>
<rect x="495.77" y="100.5" width="1" height="1" fill="#777"/>
<path d="M499.77,97.5V125.6" stroke="#adadad" stroke-width="0.75"/>
<path d="M503.27,125.6V144.4" stroke="#adadad" stroke-width="0.75"/>
<rect x="502.77" y="150.9" width="1" height="1" fill="#777"/>
<path d="M506.77,114.7V140.5" stroke="#adadad" stroke-width="0.75"/>
<path d="M517.21,91.25V142.8" stroke="#adadad" stroke-width="0.75"/>
<path d="M520.71,85V152.2" stroke="#9c9c9c" stroke-width="0.75"/>
<rect x="520.21" y="79.1" width="1" height="1" fill="#777"/>
<rect x="520.21" y="83.1" width="1" height="1" fill="#777"/>
<path d="M524.21,99.8V153.75" stroke="#adadad" stroke-width="0.75"/>
<rect x="523.71" y="158.8" width="1" height="1" fill="#777"/>
<path d="M527.71,91.25V120" stroke="#adadad" stroke-width="0.75"/>
<rect x="527.21" y="126.0" width="1" height="1" fill="#777"/>
<path d="M531.21,113V139.7" stroke="#adadad" stroke-width="0.75"/>
<path d="M534.71,113V138" stroke="#adadad" stroke-width="0.75"/>
<rect x="534.21" y="106.5" width="1" height="1" fill="#777"/>
<path d="M545.15,85V135" stroke="#adadad" stroke-width="0.75"/>
<rect x="544.65" y="137.4" width="1" height="1" fill="#777"/>
<path d="M548.65,75.8V145.3" stroke="#9c9c9c" stroke-width="0.75"/>
<rect x="548.15" y="72.4" width="1" height="1" fill="#777"/>
<path d="M552.15,90.6V142.2" stroke="#adadad" stroke-width="0.75"/>
<rect x="551.65" y="146.3" width="1" height="1" fill="#777"/>
<path d="M555.65,82.8V111.7" stroke="#adadad" stroke-width="0.75"/>
<path d="M559.15,107.8V133.6" stroke="#adadad" stroke-width="0.75"/>
<rect x="558.65" y="101.0" width="1" height="1" fill="#777"/>
<rect x="558.65" y="105.1" width="1" height="1" fill="#777"/>
<path d="M562.65,108.6V133.6" stroke="#adadad" stroke-width="0.75"/>
<path d="M573.09,76.7V125" stroke="#adadad" stroke-width="0.75"/>
<path d="M576.59,69.7V136" stroke="#9c9c9c" stroke-width="0.75"/>
<rect x="576.09" y="64.5" width="1" height="1" fill="#777"/>
<rect x="576.09" y="63.0" width="1" height="1" fill="#777"/>
<path d="M580.09,79.8V127.5" stroke="#adadad" stroke-width="0.75"/>
<rect x="579.59" y="72.7" width="1" height="1" fill="#777"/>
<path d="M583.59,76V102.5" stroke="#adadad" stroke-width="0.75"/>
<path d="M587.09,99.4V122.8" stroke="#adadad" stroke-width="0.75"/>
<path d="M590.59,101V125" stroke="#adadad" stroke-width="0.75"/>
<rect x="590.09" y="97.8" width="1" height="1" fill="#777"/>
<path d="M601.03,67.5V110.5" stroke="#adadad" stroke-width="0.75"/>
<rect x="600.53" y="117.9" width="1" height="1" fill="#777"/>
<path d="M604.53,62.8V123" stroke="#9c9c9c" stroke-width="0.75"/>
<rect x="604.03" y="59.9" width="1" height="1" fill="#777"/>
<path d="M608.03,69.8V111.25" stroke="#adadad" stroke-width="0.75"/>
<rect x="607.53" y="65.9" width="1" height="1" fill="#777"/>
<path d="M611.53,66.7V87" stroke="#adadad" stroke-width="0.75"/>
<path d="M615.03,87.8V109.7" stroke="#adadad" stroke-width="0.75"/>
<rect x="614.53" y="85.1" width="1" height="1" fill="#777"/>
<rect x="614.53" y="114.2" width="1" height="1" fill="#777"/>
<path d="M618.53,88.6V112.8" stroke="#adadad" stroke-width="0.75"/>
<path d="M628.97,58.9V92.5" stroke="#adadad" stroke-width="0.75"/>
<rect x="628.47" y="100.0" width="1" height="1" fill="#777"/>
<path d="M632.47,55.8V103.4" stroke="#9c9c9c" stroke-width="0.75"/>
<rect x="631.97" y="51.0" width="1" height="1" fill="#777"/>
<path d="M635.97,58.9V91.7" stroke="#adadad" stroke-width="0.75"/>
<path d="M639.47,57.3V76.9" stroke="#adadad" stroke-width="0.75"/>
<path d="M642.97,75.3V94.8" stroke="#adadad" stroke-width="0.75"/>
<path d="M646.47,73V93.3" stroke="#adadad" stroke-width="0.75"/>
<rect x="645.97" y="69.6" width="1" height="1" fill="#777"/>
<path d="M656.91,50.3V68.3" stroke="#adadad" stroke-width="0.75"/>
<rect x="656.41" y="45.4" width="1" height="1" fill="#777"/>
<path d="M660.41,45.6V76" stroke="#9c9c9c" stroke-width="0.75"/>
<path d="M663.91,46.4V67.5" stroke="#adadad" stroke-width="0.75"/>
<rect x="663.41" y="71.3" width="1" height="1" fill="#777"/>
<rect x="663.41" y="70.3" width="1" height="1" fill="#777"/>
<path d="M667.41,45.6V56.6" stroke="#adadad" stroke-width="0.75"/>
<rect x="666.91" y="43.7" width="1" height="1" fill="#777"/>
<path d="M670.91,57.3V73" stroke="#adadad" stroke-width="0.75"/>
<rect x="670.41" y="53.6" width="1" height="1" fill="#777"/>
<path d="M674.41,53.4V62.8" stroke="#adadad" stroke-width="0.75"/>
<rect x="673.91" y="48.1" width="1" height="1" fill="#777"/>
<rect x="673.91" y="65.6" width="1" height="1" fill="#777"/>
<rect x="404.00" y="122.8" width="2.90" height="11.90" fill="#1ed3f0" stroke="#3a3a3a" stroke-opacity="0.55" stroke-width="0.5"/>
<path d="M404.00,128.75h2.90" stroke="#2a2a2a" stroke-opacity="0.8" stroke-width="0.85"/>
<rect x="407.50" y="119" width="2.90" height="16.80" fill="#f24b57" stroke="#3a3a3a" stroke-opacity="0.55" stroke-width="0.5"/>
<path d="M407.50,127.2h2.90" stroke="#2a2a2a" stroke-opacity="0.8" stroke-width="0.85"/>
<rect x="411.00" y="143.9" width="2.90" height="17.70" fill="#2196f3" stroke="#3a3a3a" stroke-opacity="0.55" stroke-width="0.5"/>
<path d="M411.00,152.5h2.90" stroke="#2a2a2a" stroke-opacity="0.8" stroke-width="0.85"/>
<rect x="414.50" y="124" width="2.90" height="7.90" fill="#6eab1e" stroke="#3a3a3a" stroke-opacity="0.55" stroke-width="0.5"/>
<path d="M414.50,127.5h2.90" stroke="#2a2a2a" stroke-opacity="0.8" stroke-width="0.85"/>
<rect x="418.00" y="132.7" width="2.90" height="5.00" fill="#f5bd1f" stroke="#3a3a3a" stroke-opacity="0.55" stroke-width="0.5"/>
<path d="M418.00,135.3h2.90" stroke="#2a2a2a" stroke-opacity="0.8" stroke-width="0.85"/>
<rect x="421.50" y="128.75" width="2.90" height="5.95" fill="#8282f5" stroke="#3a3a3a" stroke-opacity="0.55" stroke-width="0.5"/>
<path d="M421.50,131.1h2.90" stroke="#2a2a2a" stroke-opacity="0.8" stroke-width="0.85"/>
<rect x="431.94" y="121.9" width="2.90" height="12.10" fill="#1ed3f0" stroke="#3a3a3a" stroke-opacity="0.55" stroke-width="0.5"/>
<path d="M431.94,128.1h2.90" stroke="#2a2a2a" stroke-opacity="0.8" stroke-width="0.85"/>
<rect x="435.44" y="118.75" width="2.90" height="16.05" fill="#f24b57" stroke="#3a3a3a" stroke-opacity="0.55" stroke-width="0.5"/>
<path d="M435.44,127.5h2.90" stroke="#2a2a2a" stroke-opacity="0.8" stroke-width="0.85"/>
<rect x="438.94" y="140" width="2.90" height="16.25" fill="#2196f3" stroke="#3a3a3a" stroke-opacity="0.55" stroke-width="0.5"/>
<path d="M438.94,148.1h2.90" stroke="#2a2a2a" stroke-opacity="0.8" stroke-width="0.85"/>
<rect x="442.44" y="120.8" width="2.90" height="6.70" fill="#6eab1e" stroke="#3a3a3a" stroke-opacity="0.55" stroke-width="0.5"/>
<path d="M442.44,124.4h2.90" stroke="#2a2a2a" stroke-opacity="0.8" stroke-width="0.85"/>
<rect x="445.94" y="132.2" width="2.90" height="5.30" fill="#f5bd1f" stroke="#3a3a3a" stroke-opacity="0.55" stroke-width="0.5"/>
<path d="M445.94,134.8h2.90" stroke="#2a2a2a" stroke-opacity="0.8" stroke-width="0.85"/>
<rect x="449.44" y="128.6" width="2.90" height="5.80" fill="#8282f5" stroke="#3a3a3a" stroke-opacity="0.55" stroke-width="0.5"/>
<path d="M449.44,131.4h2.90" stroke="#2a2a2a" stroke-opacity="0.8" stroke-width="0.85"/>
<rect x="459.88" y="120.3" width="2.90" height="12.20" fill="#1ed3f0" stroke="#3a3a3a" stroke-opacity="0.55" stroke-width="0.5"/>
<path d="M459.88,125.9h2.90" stroke="#2a2a2a" stroke-opacity="0.8" stroke-width="0.85"/>
<rect x="463.38" y="118.1" width="2.90" height="15.90" fill="#f24b57" stroke="#3a3a3a" stroke-opacity="0.55" stroke-width="0.5"/>
<path d="M463.38,125.5h2.90" stroke="#2a2a2a" stroke-opacity="0.8" stroke-width="0.85"/>
<rect x="466.88" y="134.4" width="2.90" height="15.30" fill="#2196f3" stroke="#3a3a3a" stroke-opacity="0.55" stroke-width="0.5"/>
<path d="M466.88,142.2h2.90" stroke="#2a2a2a" stroke-opacity="0.8" stroke-width="0.85"/>
<rect x="470.38" y="116.1" width="2.90" height="7.00" fill="#6eab1e" stroke="#3a3a3a" stroke-opacity="0.55" stroke-width="0.5"/>
<path d="M470.38,119.7h2.90" stroke="#2a2a2a" stroke-opacity="0.8" stroke-width="0.85"/>
<rect x="473.88" y="132.2" width="2.90" height="4.70" fill="#f5bd1f" stroke="#3a3a3a" stroke-opacity="0.55" stroke-width="0.5"/>
<path d="M473.88,134h2.90" stroke="#2a2a2a" stroke-opacity="0.8" stroke-width="0.85"/>
<rect x="477.38" y="127.8" width="2.90" height="5.95" fill="#8282f5" stroke="#3a3a3a" stroke-opacity="0.55" stroke-width="0.5"/>
<path d="M477.38,130.2h2.90" stroke="#2a2a2a" stroke-opacity="0.8" stroke-width="0.85"/>
<rect x="487.82" y="117.5" width="2.90" height="12.00" fill="#1ed3f0" stroke="#3a3a3a" stroke-opacity="0.55" stroke-width="0.5"/>
<path d="M487.82,123.3h2.90" stroke="#2a2a2a" stroke-opacity="0.8" stroke-width="0.85"/>
<rect x="491.32" y="117" width="2.90" height="15.70" fill="#f24b57" stroke="#3a3a3a" stroke-opacity="0.55" stroke-width="0.5"/>
<path d="M491.32,124.8h2.90" stroke="#2a2a2a" stroke-opacity="0.8" stroke-width="0.85"/>
<rect x="494.82" y="126.9" width="2.90" height="15.60" fill="#2196f3" stroke="#3a3a3a" stroke-opacity="0.55" stroke-width="0.5"/>
<path d="M494.82,134.2h2.90" stroke="#2a2a2a" stroke-opacity="0.8" stroke-width="0.85"/>
<rect x="498.32" y="110" width="2.90" height="7.50" fill="#6eab1e" stroke="#3a3a3a" stroke-opacity="0.55" stroke-width="0.5"/>
<path d="M498.32,113.9h2.90" stroke="#2a2a2a" stroke-opacity="0.8" stroke-width="0.85"/>
<rect x="501.82" y="130.6" width="2.90" height="5.20" fill="#f5bd1f" stroke="#3a3a3a" stroke-opacity="0.55" stroke-width="0.5"/>
<path d="M501.82,133.1h2.90" stroke="#2a2a2a" stroke-opacity="0.8" stroke-width="0.85"/>
<rect x="505.32" y="126.4" width="2.90" height="6.30" fill="#8282f5" stroke="#3a3a3a" stroke-opacity="0.55" stroke-width="0.5"/>
<path d="M505.32,128.75h2.90" stroke="#2a2a2a" stroke-opacity="0.8" stroke-width="0.85"/>
<rect x="515.76" y="113.1" width="2.90" height="11.30" fill="#1ed3f0" stroke="#3a3a3a" stroke-opacity="0.55" stroke-width="0.5"/>
<path d="M515.76,118.6h2.90" stroke="#2a2a2a" stroke-opacity="0.8" stroke-width="0.85"/>
<rect x="519.26" y="114.4" width="2.90" height="15.10" fill="#f24b57" stroke="#3a3a3a" stroke-opacity="0.55" stroke-width="0.5"/>
<path d="M519.26,122.5h2.90" stroke="#2a2a2a" stroke-opacity="0.8" stroke-width="0.85"/>
<rect x="522.76" y="118.1" width="2.90" height="15.30" fill="#2196f3" stroke="#3a3a3a" stroke-opacity="0.55" stroke-width="0.5"/>
<path d="M522.76,125.6h2.90" stroke="#2a2a2a" stroke-opacity="0.8" stroke-width="0.85"/>
<rect x="526.26" y="103.75" width="2.90" height="7.05" fill="#6eab1e" stroke="#3a3a3a" stroke-opacity="0.55" stroke-width="0.5"/>
<path d="M526.26,106.9h2.90" stroke="#2a2a2a" stroke-opacity="0.8" stroke-width="0.85"/>
<rect x="529.76" y="127.2" width="2.90" height="4.40" fill="#f5bd1f" stroke="#3a3a3a" stroke-opacity="0.55" stroke-width="0.5"/>
<path d="M529.76,129h2.90" stroke="#2a2a2a" stroke-opacity="0.8" stroke-width="0.85"/>
<rect x="533.26" y="124" width="2.90" height="5.50" fill="#8282f5" stroke="#3a3a3a" stroke-opacity="0.55" stroke-width="0.5"/>
<path d="M533.26,126.4h2.90" stroke="#2a2a2a" stroke-opacity="0.8" stroke-width="0.85"/>
<rect x="543.70" y="107" width="2.90" height="10.50" fill="#1ed3f0" stroke="#3a3a3a" stroke-opacity="0.55" stroke-width="0.5"/>
<path d="M543.70,112.2h2.90" stroke="#2a2a2a" stroke-opacity="0.8" stroke-width="0.85"/>
<rect x="547.20" y="110.2" width="2.90" height="14.80" fill="#f24b57" stroke="#3a3a3a" stroke-opacity="0.55" stroke-width="0.5"/>
<path d="M547.20,118h2.90" stroke="#2a2a2a" stroke-opacity="0.8" stroke-width="0.85"/>
<rect x="550.70" y="109" width="2.90" height="13.70" fill="#2196f3" stroke="#3a3a3a" stroke-opacity="0.55" stroke-width="0.5"/>
<path d="M550.70,114.8h2.90" stroke="#2a2a2a" stroke-opacity="0.8" stroke-width="0.85"/>
<rect x="554.20" y="95.3" width="2.90" height="7.00" fill="#6eab1e" stroke="#3a3a3a" stroke-opacity="0.55" stroke-width="0.5"/>
<path d="M554.20,98.4h2.90" stroke="#2a2a2a" stroke-opacity="0.8" stroke-width="0.85"/>
<rect x="557.70" y="121.1" width="2.90" height="3.60" fill="#f5bd1f" stroke="#3a3a3a" stroke-opacity="0.55" stroke-width="0.5"/>
<path d="M557.70,122.7h2.90" stroke="#2a2a2a" stroke-opacity="0.8" stroke-width="0.85"/>
<rect x="561.20" y="118.75" width="2.90" height="5.95" fill="#8282f5" stroke="#3a3a3a" stroke-opacity="0.55" stroke-width="0.5"/>
<path d="M561.20,121.9h2.90" stroke="#2a2a2a" stroke-opacity="0.8" stroke-width="0.85"/>
<rect x="571.64" y="98.1" width="2.90" height="10.65" fill="#1ed3f0" stroke="#3a3a3a" stroke-opacity="0.55" stroke-width="0.5"/>
<path d="M571.64,103.3h2.90" stroke="#2a2a2a" stroke-opacity="0.8" stroke-width="0.85"/>
<rect x="575.14" y="102.8" width="2.90" height="14.50" fill="#f24b57" stroke="#3a3a3a" stroke-opacity="0.55" stroke-width="0.5"/>
<path d="M575.14,110.3h2.90" stroke="#2a2a2a" stroke-opacity="0.8" stroke-width="0.85"/>
<rect x="578.64" y="97.5" width="2.90" height="12.50" fill="#2196f3" stroke="#3a3a3a" stroke-opacity="0.55" stroke-width="0.5"/>
<path d="M578.64,103.3h2.90" stroke="#2a2a2a" stroke-opacity="0.8" stroke-width="0.85"/>
<rect x="582.14" y="86.6" width="2.90" height="6.20" fill="#6eab1e" stroke="#3a3a3a" stroke-opacity="0.55" stroke-width="0.5"/>
<path d="M582.14,89.7h2.90" stroke="#2a2a2a" stroke-opacity="0.8" stroke-width="0.85"/>
<rect x="585.64" y="111.1" width="2.90" height="4.70" fill="#f5bd1f" stroke="#3a3a3a" stroke-opacity="0.55" stroke-width="0.5"/>
<path d="M585.64,113.1h2.90" stroke="#2a2a2a" stroke-opacity="0.8" stroke-width="0.85"/>
<rect x="589.14" y="111.1" width="2.90" height="5.15" fill="#8282f5" stroke="#3a3a3a" stroke-opacity="0.55" stroke-width="0.5"/>
<path d="M589.14,113.4h2.90" stroke="#2a2a2a" stroke-opacity="0.8" stroke-width="0.85"/>
<rect x="599.58" y="87.8" width="2.90" height="9.10" fill="#1ed3f0" stroke="#3a3a3a" stroke-opacity="0.55" stroke-width="0.5"/>
<path d="M599.58,92.2h2.90" stroke="#2a2a2a" stroke-opacity="0.8" stroke-width="0.85"/>
<rect x="603.08" y="92.2" width="2.90" height="13.60" fill="#f24b57" stroke="#3a3a3a" stroke-opacity="0.55" stroke-width="0.5"/>
<path d="M603.08,98.75h2.90" stroke="#2a2a2a" stroke-opacity="0.8" stroke-width="0.85"/>
<rect x="606.58" y="85" width="2.90" height="10.60" fill="#2196f3" stroke="#3a3a3a" stroke-opacity="0.55" stroke-width="0.5"/>
<path d="M606.58,90.2h2.90" stroke="#2a2a2a" stroke-opacity="0.8" stroke-width="0.85"/>
<rect x="610.08" y="76.6" width="2.90" height="5.00" fill="#6eab1e" stroke="#3a3a3a" stroke-opacity="0.55" stroke-width="0.5"/>
<path d="M610.08,79.2h2.90" stroke="#2a2a2a" stroke-opacity="0.8" stroke-width="0.85"/>
<rect x="613.58" y="99" width="2.90" height="4.10" fill="#f5bd1f" stroke="#3a3a3a" stroke-opacity="0.55" stroke-width="0.5"/>
<path d="M613.58,101.1h2.90" stroke="#2a2a2a" stroke-opacity="0.8" stroke-width="0.85"/>
<rect x="617.08" y="98.75" width="2.90" height="4.65" fill="#8282f5" stroke="#3a3a3a" stroke-opacity="0.55" stroke-width="0.5"/>
<path d="M617.08,101.1h2.90" stroke="#2a2a2a" stroke-opacity="0.8" stroke-width="0.85"/>
<rect x="627.52" y="74.5" width="2.90" height="7.10" fill="#1ed3f0" stroke="#3a3a3a" stroke-opacity="0.55" stroke-width="0.5"/>
<path d="M627.52,77.7h2.90" stroke="#2a2a2a" stroke-opacity="0.8" stroke-width="0.85"/>
<rect x="631.02" y="78.75" width="2.90" height="10.65" fill="#f24b57" stroke="#3a3a3a" stroke-opacity="0.55" stroke-width="0.5"/>
<path d="M631.02,83.4h2.90" stroke="#2a2a2a" stroke-opacity="0.8" stroke-width="0.85"/>
<rect x="634.52" y="71.4" width="2.90" height="8.30" fill="#2196f3" stroke="#3a3a3a" stroke-opacity="0.55" stroke-width="0.5"/>
<path d="M634.52,74.5h2.90" stroke="#2a2a2a" stroke-opacity="0.8" stroke-width="0.85"/>
<rect x="638.02" y="65.2" width="2.90" height="3.55" fill="#6eab1e" stroke="#3a3a3a" stroke-opacity="0.55" stroke-width="0.5"/>
<path d="M638.02,66.9h2.90" stroke="#2a2a2a" stroke-opacity="0.8" stroke-width="0.85"/>
<rect x="641.52" y="83.9" width="2.90" height="3.60" fill="#f5bd1f" stroke="#3a3a3a" stroke-opacity="0.55" stroke-width="0.5"/>
<path d="M641.52,85.5h2.90" stroke="#2a2a2a" stroke-opacity="0.8" stroke-width="0.85"/>
<rect x="645.02" y="80.8" width="2.90" height="4.70" fill="#8282f5" stroke="#3a3a3a" stroke-opacity="0.55" stroke-width="0.5"/>
<path d="M645.02,83.1h2.90" stroke="#2a2a2a" stroke-opacity="0.8" stroke-width="0.85"/>
<rect x="655.46" y="56.9" width="2.90" height="4.70" fill="#1ed3f0" stroke="#3a3a3a" stroke-opacity="0.55" stroke-width="0.5"/>
<path d="M655.46,59.2h2.90" stroke="#2a2a2a" stroke-opacity="0.8" stroke-width="0.85"/>
<rect x="658.96" y="60.9" width="2.90" height="5.35" fill="#f24b57" stroke="#3a3a3a" stroke-opacity="0.55" stroke-width="0.5"/>
<path d="M658.96,63.1h2.90" stroke="#2a2a2a" stroke-opacity="0.8" stroke-width="0.85"/>
<rect x="662.46" y="55" width="2.90" height="4.70" fill="#2196f3" stroke="#3a3a3a" stroke-opacity="0.55" stroke-width="0.5"/>
<path d="M662.46,57.3h2.90" stroke="#2a2a2a" stroke-opacity="0.8" stroke-width="0.85"/>
<rect x="665.96" y="51.1" width="2.90" height="2.65" fill="#6eab1e" stroke="#3a3a3a" stroke-opacity="0.55" stroke-width="0.5"/>
<path d="M665.96,52.3h2.90" stroke="#2a2a2a" stroke-opacity="0.8" stroke-width="0.85"/>
<rect x="669.46" y="63.6" width="2.90" height="3.10" fill="#f5bd1f" stroke="#3a3a3a" stroke-opacity="0.55" stroke-width="0.5"/>
<path d="M669.46,65.2h2.90" stroke="#2a2a2a" stroke-opacity="0.8" stroke-width="0.85"/>
<rect x="672.96" y="57.8" width="2.90" height="3.45" fill="#8282f5" stroke="#3a3a3a" stroke-opacity="0.55" stroke-width="0.5"/>
<path d="M672.96,59.7h2.90" stroke="#2a2a2a" stroke-opacity="0.8" stroke-width="0.85"/>
<text transform="translate(365.9,133.9) rotate(-90)" x="0" y="0" font-size="12.8" font-weight="bold" text-anchor="middle" fill="#000">Heterozygosity Concordance Rate</text>
<text x="623" y="166.5" font-size="11.5" font-weight="bold" text-anchor="middle" fill="#000" >Reference Panels</text>
<rect x="589.9" y="173.30" width="7.8" height="5.4" fill="#6fd6ef" stroke="#12a5bd" stroke-width="0.4"/>
<path d="M589.9,176.00h7.8" stroke="#12a5bd" stroke-width="0.6"/>
<text x="602" y="179.90" font-size="11.6" font-weight="normal" text-anchor="start" fill="#000" >CHN100k</text>
<rect x="589.9" y="183.95" width="7.8" height="5.4" fill="#e35c63" stroke="#c23a44" stroke-width="0.4"/>
<path d="M589.9,186.65h7.8" stroke="#c23a44" stroke-width="0.6"/>
<text x="602" y="190.55" font-size="11.6" font-weight="normal" text-anchor="start" fill="#000" >ChinaMAP</text>
<rect x="589.9" y="194.60" width="7.8" height="5.4" fill="#4a9cf0" stroke="#1a74c0" stroke-width="0.4"/>
<path d="M589.9,197.30h7.8" stroke="#1a74c0" stroke-width="0.6"/>
<text x="602" y="201.20" font-size="11.6" font-weight="normal" text-anchor="start" fill="#000" >WBBC</text>
<rect x="589.9" y="205.25" width="7.8" height="5.4" fill="#85a845" stroke="#527f16" stroke-width="0.4"/>
<path d="M589.9,207.95h7.8" stroke="#527f16" stroke-width="0.6"/>
<text x="602" y="211.85" font-size="11.6" font-weight="normal" text-anchor="start" fill="#000" >SEAD</text>
<rect x="589.9" y="215.90" width="7.8" height="5.4" fill="#eab84a" stroke="#c3961a" stroke-width="0.4"/>
<path d="M589.9,218.60h7.8" stroke="#c3961a" stroke-width="0.6"/>
<text x="602" y="222.50" font-size="11.6" font-weight="normal" text-anchor="start" fill="#000" >1KG</text>
<rect x="589.9" y="226.55" width="7.8" height="5.4" fill="#8a8af0" stroke="#6262c5" stroke-width="0.4"/>
<path d="M589.9,229.25h7.8" stroke="#6262c5" stroke-width="0.6"/>
<text x="602" y="233.15" font-size="11.6" font-weight="normal" text-anchor="start" fill="#000" >TOPMed</text>
<path d="M52.5,266V490.5H336.8" fill="none" stroke="#333" stroke-width="1.05"/>
<path d="M50.30,276.50H52.5" stroke="#333" stroke-width="1"/>
<path d="M50.30,327.50H52.5" stroke="#333" stroke-width="1"/>
<path d="M50.30,378.50H52.5" stroke="#333" stroke-width="1"/>
<path d="M50.30,429.50H52.5" stroke="#333" stroke-width="1"/>
<path d="M50.30,480.50H52.5" stroke="#333" stroke-width="1"/>
<path d="M69.00,490.5V492.70" stroke="#333" stroke-width="1"/>
<path d="M96.94,490.5V492.70" stroke="#333" stroke-width="1"/>
<path d="M124.88,490.5V492.70" stroke="#333" stroke-width="1"/>
<path d="M152.82,490.5V492.70" stroke="#333" stroke-width="1"/>
<path d="M180.76,490.5V492.70" stroke="#333" stroke-width="1"/>
<path d="M208.70,490.5V492.70" stroke="#333" stroke-width="1"/>
<path d="M236.64,490.5V492.70" stroke="#333" stroke-width="1"/>
<path d="M264.58,490.5V492.70" stroke="#333" stroke-width="1"/>
<path d="M292.52,490.5V492.70" stroke="#333" stroke-width="1"/>
<path d="M320.46,490.5V492.70" stroke="#333" stroke-width="1"/>
<text x="49.6" y="280.10" font-size="10.2" font-weight="normal" text-anchor="end" fill="#222" >1.00</text>
<text x="49.6" y="331.10" font-size="10.2" font-weight="normal" text-anchor="end" fill="#222" >0.90</text>
<text x="49.6" y="382.10" font-size="10.2" font-weight="normal" text-anchor="end" fill="#222" >0.80</text>
<text x="49.6" y="433.10" font-size="10.2" font-weight="normal" text-anchor="end" fill="#222" >0.70</text>
<text x="49.6" y="484.10" font-size="10.2" font-weight="normal" text-anchor="end" fill="#222" >0.60</text>
<path d="M397.2,266V490.5H681.9" fill="none" stroke="#333" stroke-width="1.05"/>
<path d="M395.00,276.40H397.2" stroke="#333" stroke-width="1"/>
<path d="M395.00,327.50H397.2" stroke="#333" stroke-width="1"/>
<path d="M395.00,378.60H397.2" stroke="#333" stroke-width="1"/>
<path d="M395.00,429.70H397.2" stroke="#333" stroke-width="1"/>
<path d="M395.00,480.80H397.2" stroke="#333" stroke-width="1"/>
<path d="M413.20,490.5V492.70" stroke="#333" stroke-width="1"/>
<path d="M441.18,490.5V492.70" stroke="#333" stroke-width="1"/>
<path d="M469.16,490.5V492.70" stroke="#333" stroke-width="1"/>
<path d="M497.14,490.5V492.70" stroke="#333" stroke-width="1"/>
<path d="M525.12,490.5V492.70" stroke="#333" stroke-width="1"/>
<path d="M553.10,490.5V492.70" stroke="#333" stroke-width="1"/>
<path d="M581.08,490.5V492.70" stroke="#333" stroke-width="1"/>
<path d="M609.06,490.5V492.70" stroke="#333" stroke-width="1"/>
<path d="M637.04,490.5V492.70" stroke="#333" stroke-width="1"/>
<path d="M665.02,490.5V492.70" stroke="#333" stroke-width="1"/>
<text x="394.6" y="280.00" font-size="10.2" font-weight="normal" text-anchor="end" fill="#222" >1.00</text>
<text x="394.6" y="331.10" font-size="10.2" font-weight="normal" text-anchor="end" fill="#222" >0.90</text>
<text x="394.6" y="382.20" font-size="10.2" font-weight="normal" text-anchor="end" fill="#222" >0.80</text>
<text x="394.6" y="433.30" font-size="10.2" font-weight="normal" text-anchor="end" fill="#222" >0.70</text>
<text x="394.6" y="484.40" font-size="10.2" font-weight="normal" text-anchor="end" fill="#222" >0.60</text>
<text transform="translate(25.8,378.25) rotate(-90)" x="0" y="0" font-size="11.4" font-weight="bold" text-anchor="middle" fill="#000">Mean IQS</text>
<text transform="translate(370.8,378.25) rotate(-90)" x="0" y="0" font-size="11.4" font-weight="bold" text-anchor="middle" fill="#000">Mean IQS</text>
<polyline points="69.00,428 96.94,418.9 124.88,412.7 152.82,405.4 180.76,394.7 208.70,381 236.64,363.6 264.58,344.6 292.52,324 320.46,302.3" fill="none" stroke="#1ed3f0" stroke-width="1.4" stroke-linejoin="round"/>
<circle cx="69.00" cy="428" r="2.05" fill="#1ed3f0"/>
<circle cx="96.94" cy="418.9" r="2.05" fill="#1ed3f0"/>
<circle cx="124.88" cy="412.7" r="2.05" fill="#1ed3f0"/>
<circle cx="152.82" cy="405.4" r="2.05" fill="#1ed3f0"/>
<circle cx="180.76" cy="394.7" r="2.05" fill="#1ed3f0"/>
<circle cx="208.70" cy="381" r="2.05" fill="#1ed3f0"/>
<circle cx="236.64" cy="363.6" r="2.05" fill="#1ed3f0"/>
<circle cx="264.58" cy="344.6" r="2.05" fill="#1ed3f0"/>
<circle cx="292.52" cy="324" r="2.05" fill="#1ed3f0"/>
<circle cx="320.46" cy="302.3" r="2.05" fill="#1ed3f0"/>
<polyline points="69.00,407.8 96.94,400.5 124.88,398 152.82,394.4 180.76,388.9 208.70,378.9 236.64,366 264.58,348.3 292.52,327.1 320.46,303.8" fill="none" stroke="#f24b57" stroke-width="1.4" stroke-linejoin="round"/>
<circle cx="69.00" cy="407.8" r="2.05" fill="#f24b57"/>
<circle cx="96.94" cy="400.5" r="2.05" fill="#f24b57"/>
<circle cx="124.88" cy="398" r="2.05" fill="#f24b57"/>
<circle cx="152.82" cy="394.4" r="2.05" fill="#f24b57"/>
<circle cx="180.76" cy="388.9" r="2.05" fill="#f24b57"/>
<circle cx="208.70" cy="378.9" r="2.05" fill="#f24b57"/>
<circle cx="236.64" cy="366" r="2.05" fill="#f24b57"/>
<circle cx="264.58" cy="348.3" r="2.05" fill="#f24b57"/>
<circle cx="292.52" cy="327.1" r="2.05" fill="#f24b57"/>
<circle cx="320.46" cy="303.8" r="2.05" fill="#f24b57"/>
<polyline points="69.00,468.4 96.94,444.6 124.88,430.2 152.82,414.9 180.76,398.4 208.70,381 236.64,362 264.58,342.1 292.52,322.2 320.46,301.4" fill="none" stroke="#2196f3" stroke-width="1.4" stroke-linejoin="round"/>
<circle cx="69.00" cy="468.4" r="2.05" fill="#2196f3"/>
<circle cx="96.94" cy="444.6" r="2.05" fill="#2196f3"/>
<circle cx="124.88" cy="430.2" r="2.05" fill="#2196f3"/>
<circle cx="152.82" cy="414.9" r="2.05" fill="#2196f3"/>
<circle cx="180.76" cy="398.4" r="2.05" fill="#2196f3"/>
<circle cx="208.70" cy="381" r="2.05" fill="#2196f3"/>
<circle cx="236.64" cy="362" r="2.05" fill="#2196f3"/>
<circle cx="264.58" cy="342.1" r="2.05" fill="#2196f3"/>
<circle cx="292.52" cy="322.2" r="2.05" fill="#2196f3"/>
<circle cx="320.46" cy="301.4" r="2.05" fill="#2196f3"/>
<polyline points="69.00,463 96.94,438.4 124.88,424.7 152.82,410 180.76,394 208.70,376.8 236.64,358.4 264.58,339.4 292.52,319.8 320.46,299.8" fill="none" stroke="#6eab1e" stroke-width="1.4" stroke-linejoin="round"/>
<circle cx="69.00" cy="463" r="2.05" fill="#6eab1e"/>
<circle cx="96.94" cy="438.4" r="2.05" fill="#6eab1e"/>
<circle cx="124.88" cy="424.7" r="2.05" fill="#6eab1e"/>
<circle cx="152.82" cy="410" r="2.05" fill="#6eab1e"/>
<circle cx="180.76" cy="394" r="2.05" fill="#6eab1e"/>
<circle cx="208.70" cy="376.8" r="2.05" fill="#6eab1e"/>
<circle cx="236.64" cy="358.4" r="2.05" fill="#6eab1e"/>
<circle cx="264.58" cy="339.4" r="2.05" fill="#6eab1e"/>
<circle cx="292.52" cy="319.8" r="2.05" fill="#6eab1e"/>
<circle cx="320.46" cy="299.8" r="2.05" fill="#6eab1e"/>
<polyline points="69.00,461.4 96.94,456.8 124.88,451.3 152.82,441.8 180.76,427.1 208.70,409.2 236.64,387.5 264.58,363 292.52,336.3 320.46,308.1" fill="none" stroke="#f5bd1f" stroke-width="1.4" stroke-linejoin="round"/>
<circle cx="69.00" cy="461.4" r="2.05" fill="#f5bd1f"/>
<circle cx="96.94" cy="456.8" r="2.05" fill="#f5bd1f"/>
<circle cx="124.88" cy="451.3" r="2.05" fill="#f5bd1f"/>
<circle cx="152.82" cy="441.8" r="2.05" fill="#f5bd1f"/>
<circle cx="180.76" cy="427.1" r="2.05" fill="#f5bd1f"/>
<circle cx="208.70" cy="409.2" r="2.05" fill="#f5bd1f"/>
<circle cx="236.64" cy="387.5" r="2.05" fill="#f5bd1f"/>
<circle cx="264.58" cy="363" r="2.05" fill="#f5bd1f"/>
<circle cx="292.52" cy="336.3" r="2.05" fill="#f5bd1f"/>
<circle cx="320.46" cy="308.1" r="2.05" fill="#f5bd1f"/>
<polyline points="69.00,451.3 96.94,446.7 124.88,441.5 152.82,435.7 180.76,428.3 208.70,416.9 236.64,399.4 264.58,375.8 292.52,346.4 320.46,312.4" fill="none" stroke="#8282f5" stroke-width="1.4" stroke-linejoin="round"/>
<circle cx="69.00" cy="451.3" r="2.05" fill="#8282f5"/>
<circle cx="96.94" cy="446.7" r="2.05" fill="#8282f5"/>
<circle cx="124.88" cy="441.5" r="2.05" fill="#8282f5"/>
<circle cx="152.82" cy="435.7" r="2.05" fill="#8282f5"/>
<circle cx="180.76" cy="428.3" r="2.05" fill="#8282f5"/>
<circle cx="208.70" cy="416.9" r="2.05" fill="#8282f5"/>
<circle cx="236.64" cy="399.4" r="2.05" fill="#8282f5"/>
<circle cx="264.58" cy="375.8" r="2.05" fill="#8282f5"/>
<circle cx="292.52" cy="346.4" r="2.05" fill="#8282f5"/>
<circle cx="320.46" cy="312.4" r="2.05" fill="#8282f5"/>
<polyline points="413.20,405.2 441.18,399.4 469.16,396.9 497.14,393 525.12,387 553.10,379.3 581.08,368.8 609.06,354.4 637.04,337.8 665.02,313" fill="none" stroke="#1ed3f0" stroke-width="1.4" stroke-linejoin="round"/>
<circle cx="413.20" cy="405.2" r="2.05" fill="#1ed3f0"/>
<circle cx="441.18" cy="399.4" r="2.05" fill="#1ed3f0"/>
<circle cx="469.16" cy="396.9" r="2.05" fill="#1ed3f0"/>
<circle cx="497.14" cy="393" r="2.05" fill="#1ed3f0"/>
<circle cx="525.12" cy="387" r="2.05" fill="#1ed3f0"/>
<circle cx="553.10" cy="379.3" r="2.05" fill="#1ed3f0"/>
<circle cx="581.08" cy="368.8" r="2.05" fill="#1ed3f0"/>
<circle cx="609.06" cy="354.4" r="2.05" fill="#1ed3f0"/>
<circle cx="637.04" cy="337.8" r="2.05" fill="#1ed3f0"/>
<circle cx="665.02" cy="313" r="2.05" fill="#1ed3f0"/>
<polyline points="413.20,399.1 441.18,394.6 469.16,393 497.14,391.4 525.12,387.1 553.10,381 581.08,372.6 609.06,358.2 637.04,339.8 665.02,314.2" fill="none" stroke="#f24b57" stroke-width="1.4" stroke-linejoin="round"/>
<circle cx="413.20" cy="399.1" r="2.05" fill="#f24b57"/>
<circle cx="441.18" cy="394.6" r="2.05" fill="#f24b57"/>
<circle cx="469.16" cy="393" r="2.05" fill="#f24b57"/>
<circle cx="497.14" cy="391.4" r="2.05" fill="#f24b57"/>
<circle cx="525.12" cy="387.1" r="2.05" fill="#f24b57"/>
<circle cx="553.10" cy="381" r="2.05" fill="#f24b57"/>
<circle cx="581.08" cy="372.6" r="2.05" fill="#f24b57"/>
<circle cx="609.06" cy="358.2" r="2.05" fill="#f24b57"/>
<circle cx="637.04" cy="339.8" r="2.05" fill="#f24b57"/>
<circle cx="665.02" cy="314.2" r="2.05" fill="#f24b57"/>
<polyline points="413.20,433.6 441.18,422.4 469.16,415.4 497.14,407.1 525.12,397.3 553.10,386.2 581.08,371.8 609.06,355.7 637.04,337.1 665.02,311.5" fill="none" stroke="#2196f3" stroke-width="1.4" stroke-linejoin="round"/>
<circle cx="413.20" cy="433.6" r="2.05" fill="#2196f3"/>
<circle cx="441.18" cy="422.4" r="2.05" fill="#2196f3"/>
<circle cx="469.16" cy="415.4" r="2.05" fill="#2196f3"/>
<circle cx="497.14" cy="407.1" r="2.05" fill="#2196f3"/>
<circle cx="525.12" cy="397.3" r="2.05" fill="#2196f3"/>
<circle cx="553.10" cy="386.2" r="2.05" fill="#2196f3"/>
<circle cx="581.08" cy="371.8" r="2.05" fill="#2196f3"/>
<circle cx="609.06" cy="355.7" r="2.05" fill="#2196f3"/>
<circle cx="637.04" cy="337.1" r="2.05" fill="#2196f3"/>
<circle cx="665.02" cy="311.5" r="2.05" fill="#2196f3"/>
<polyline points="413.20,410.3 441.18,400.4 469.16,395.6 497.14,387.9 525.12,380 553.10,370.6 581.08,359.4 609.06,345.8 637.04,328.9 665.02,306.6" fill="none" stroke="#6eab1e" stroke-width="1.4" stroke-linejoin="round"/>
<circle cx="413.20" cy="410.3" r="2.05" fill="#6eab1e"/>
<circle cx="441.18" cy="400.4" r="2.05" fill="#6eab1e"/>
<circle cx="469.16" cy="395.6" r="2.05" fill="#6eab1e"/>
<circle cx="497.14" cy="387.9" r="2.05" fill="#6eab1e"/>
<circle cx="525.12" cy="380" r="2.05" fill="#6eab1e"/>
<circle cx="553.10" cy="370.6" r="2.05" fill="#6eab1e"/>
<circle cx="581.08" cy="359.4" r="2.05" fill="#6eab1e"/>
<circle cx="609.06" cy="345.8" r="2.05" fill="#6eab1e"/>
<circle cx="637.04" cy="328.9" r="2.05" fill="#6eab1e"/>
<circle cx="665.02" cy="306.6" r="2.05" fill="#6eab1e"/>
<polyline points="413.20,399.1 441.18,395.6 469.16,393.7 497.14,390.8 525.12,385.2 553.10,376.8 581.08,365.1 609.06,350.7 637.04,333.3 665.02,312.3" fill="none" stroke="#f5bd1f" stroke-width="1.4" stroke-linejoin="round"/>
<circle cx="413.20" cy="399.1" r="2.05" fill="#f5bd1f"/>
<circle cx="441.18" cy="395.6" r="2.05" fill="#f5bd1f"/>
<circle cx="469.16" cy="393.7" r="2.05" fill="#f5bd1f"/>
<circle cx="497.14" cy="390.8" r="2.05" fill="#f5bd1f"/>
<circle cx="525.12" cy="385.2" r="2.05" fill="#f5bd1f"/>
<circle cx="553.10" cy="376.8" r="2.05" fill="#f5bd1f"/>
<circle cx="581.08" cy="365.1" r="2.05" fill="#f5bd1f"/>
<circle cx="609.06" cy="350.7" r="2.05" fill="#f5bd1f"/>
<circle cx="637.04" cy="333.3" r="2.05" fill="#f5bd1f"/>
<circle cx="665.02" cy="312.3" r="2.05" fill="#f5bd1f"/>
<polyline points="413.20,404.2 441.18,401.3 469.16,399.7 497.14,397.5 525.12,392.8 553.10,386.2 581.08,377.3 609.06,363.9 637.04,344.5 665.02,316" fill="none" stroke="#8282f5" stroke-width="1.4" stroke-linejoin="round"/>
<circle cx="413.20" cy="404.2" r="2.05" fill="#8282f5"/>
<circle cx="441.18" cy="401.3" r="2.05" fill="#8282f5"/>
<circle cx="469.16" cy="399.7" r="2.05" fill="#8282f5"/>
<circle cx="497.14" cy="397.5" r="2.05" fill="#8282f5"/>
<circle cx="525.12" cy="392.8" r="2.05" fill="#8282f5"/>
<circle cx="553.10" cy="386.2" r="2.05" fill="#8282f5"/>
<circle cx="581.08" cy="377.3" r="2.05" fill="#8282f5"/>
<circle cx="609.06" cy="363.9" r="2.05" fill="#8282f5"/>
<circle cx="637.04" cy="344.5" r="2.05" fill="#8282f5"/>
<circle cx="665.02" cy="316" r="2.05" fill="#8282f5"/>
<text x="629.3" y="408.2" font-size="11.8" font-weight="bold" text-anchor="middle" fill="#000" >Reference Panels</text>
<path d="M595.2,418.30h8.6" stroke="#6fd6ef" stroke-width="1.8"/>
<circle cx="599.5" cy="418.30" r="2.3" fill="#6fd6ef"/>
<text x="607.8" y="422.50" font-size="12.0" font-weight="normal" text-anchor="start" fill="#000" >CHN100k</text>
<path d="M595.2,429.40h8.6" stroke="#e35c63" stroke-width="1.8"/>
<circle cx="599.5" cy="429.40" r="2.3" fill="#e35c63"/>
<text x="607.8" y="433.60" font-size="12.0" font-weight="normal" text-anchor="start" fill="#000" >ChinaMAP</text>
<path d="M595.2,440.50h8.6" stroke="#4a9cf0" stroke-width="1.8"/>
<circle cx="599.5" cy="440.50" r="2.3" fill="#4a9cf0"/>
<text x="607.8" y="444.70" font-size="12.0" font-weight="normal" text-anchor="start" fill="#000" >WBBC</text>
<path d="M595.2,451.60h8.6" stroke="#85a845" stroke-width="1.8"/>
<circle cx="599.5" cy="451.60" r="2.3" fill="#85a845"/>
<text x="607.8" y="455.80" font-size="12.0" font-weight="normal" text-anchor="start" fill="#000" >SEAD</text>
<path d="M595.2,462.70h8.6" stroke="#eab84a" stroke-width="1.8"/>
<circle cx="599.5" cy="462.70" r="2.3" fill="#eab84a"/>
<text x="607.8" y="466.90" font-size="12.0" font-weight="normal" text-anchor="start" fill="#000" >1KG</text>
<path d="M595.2,473.80h8.6" stroke="#8a8af0" stroke-width="1.8"/>
<circle cx="599.5" cy="473.80" r="2.3" fill="#8a8af0"/>
<text x="607.8" y="478.00" font-size="12.0" font-weight="normal" text-anchor="start" fill="#000" >TOPMed</text>
<path d="M53.9,506V730.4H332.4" fill="none" stroke="#333" stroke-width="1.05"/>
<path d="M51.70,516.50H53.9" stroke="#333" stroke-width="1"/>
<path d="M51.70,539.15H53.9" stroke="#333" stroke-width="1"/>
<path d="M51.70,561.80H53.9" stroke="#333" stroke-width="1"/>
<path d="M51.70,584.45H53.9" stroke="#333" stroke-width="1"/>
<path d="M51.70,607.10H53.9" stroke="#333" stroke-width="1"/>
<path d="M51.70,629.75H53.9" stroke="#333" stroke-width="1"/>
<path d="M51.70,652.40H53.9" stroke="#333" stroke-width="1"/>
<path d="M51.70,675.05H53.9" stroke="#333" stroke-width="1"/>
<path d="M51.70,697.70H53.9" stroke="#333" stroke-width="1"/>
<path d="M51.70,720.35H53.9" stroke="#333" stroke-width="1"/>
<path d="M70.50,730.4V732.60" stroke="#333" stroke-width="1"/>
<path d="M97.74,730.4V732.60" stroke="#333" stroke-width="1"/>
<path d="M124.98,730.4V732.60" stroke="#333" stroke-width="1"/>
<path d="M152.22,730.4V732.60" stroke="#333" stroke-width="1"/>
<path d="M179.46,730.4V732.60" stroke="#333" stroke-width="1"/>
<path d="M206.70,730.4V732.60" stroke="#333" stroke-width="1"/>
<path d="M233.94,730.4V732.60" stroke="#333" stroke-width="1"/>
<path d="M261.18,730.4V732.60" stroke="#333" stroke-width="1"/>
<path d="M288.42,730.4V732.60" stroke="#333" stroke-width="1"/>
<path d="M315.66,730.4V732.60" stroke="#333" stroke-width="1"/>
<text x="51.3" y="520.90" font-size="10.2" font-weight="normal" text-anchor="end" fill="#222" >00%</text>
<text x="51.3" y="543.55" font-size="10.2" font-weight="normal" text-anchor="end" fill="#222" >90%</text>
<text x="51.3" y="566.20" font-size="10.2" font-weight="normal" text-anchor="end" fill="#222" >80%</text>
<text x="51.3" y="588.85" font-size="10.2" font-weight="normal" text-anchor="end" fill="#222" >70%</text>
<text x="51.3" y="611.50" font-size="10.2" font-weight="normal" text-anchor="end" fill="#222" >60%</text>
<text x="51.3" y="634.15" font-size="10.2" font-weight="normal" text-anchor="end" fill="#222" >50%</text>
<text x="51.3" y="656.80" font-size="10.2" font-weight="normal" text-anchor="end" fill="#222" >40%</text>
<text x="51.3" y="679.45" font-size="10.2" font-weight="normal" text-anchor="end" fill="#222" >30%</text>
<text x="51.3" y="702.10" font-size="10.2" font-weight="normal" text-anchor="end" fill="#222" >20%</text>
<text x="51.3" y="724.75" font-size="10.2" font-weight="normal" text-anchor="end" fill="#222" >10%</text>
<path d="M396.4,506V730.4H674.6" fill="none" stroke="#333" stroke-width="1.05"/>
<path d="M394.20,516.40H396.4" stroke="#333" stroke-width="1"/>
<path d="M394.20,539.07H396.4" stroke="#333" stroke-width="1"/>
<path d="M394.20,561.74H396.4" stroke="#333" stroke-width="1"/>
<path d="M394.20,584.41H396.4" stroke="#333" stroke-width="1"/>
<path d="M394.20,607.08H396.4" stroke="#333" stroke-width="1"/>
<path d="M394.20,629.75H396.4" stroke="#333" stroke-width="1"/>
<path d="M394.20,652.42H396.4" stroke="#333" stroke-width="1"/>
<path d="M394.20,675.09H396.4" stroke="#333" stroke-width="1"/>
<path d="M394.20,697.76H396.4" stroke="#333" stroke-width="1"/>
<path d="M394.20,720.43H396.4" stroke="#333" stroke-width="1"/>
<path d="M412.50,730.4V732.60" stroke="#333" stroke-width="1"/>
<path d="M439.74,730.4V732.60" stroke="#333" stroke-width="1"/>
<path d="M466.98,730.4V732.60" stroke="#333" stroke-width="1"/>
<path d="M494.22,730.4V732.60" stroke="#333" stroke-width="1"/>
<path d="M521.46,730.4V732.60" stroke="#333" stroke-width="1"/>
<path d="M548.70,730.4V732.60" stroke="#333" stroke-width="1"/>
<path d="M575.94,730.4V732.60" stroke="#333" stroke-width="1"/>
<path d="M603.18,730.4V732.60" stroke="#333" stroke-width="1"/>
<path d="M630.42,730.4V732.60" stroke="#333" stroke-width="1"/>
<path d="M657.66,730.4V732.60" stroke="#333" stroke-width="1"/>
<text x="393.6" y="520.80" font-size="10.2" font-weight="normal" text-anchor="end" fill="#222" >100%</text>
<text x="393.6" y="543.47" font-size="10.2" font-weight="normal" text-anchor="end" fill="#222" >90%</text>
<text x="393.6" y="566.14" font-size="10.2" font-weight="normal" text-anchor="end" fill="#222" >80%</text>
<text x="393.6" y="588.81" font-size="10.2" font-weight="normal" text-anchor="end" fill="#222" >70%</text>
<text x="393.6" y="611.48" font-size="10.2" font-weight="normal" text-anchor="end" fill="#222" >60%</text>
<text x="393.6" y="634.15" font-size="10.2" font-weight="normal" text-anchor="end" fill="#222" >50%</text>
<text x="393.6" y="656.82" font-size="10.2" font-weight="normal" text-anchor="end" fill="#222" >40%</text>
<text x="393.6" y="679.49" font-size="10.2" font-weight="normal" text-anchor="end" fill="#222" >30%</text>
<text x="393.6" y="702.16" font-size="10.2" font-weight="normal" text-anchor="end" fill="#222" >20%</text>
<text x="393.6" y="724.83" font-size="10.2" font-weight="normal" text-anchor="end" fill="#222" >10%</text>
<polyline points="70.50,516.2 97.74,527.7 124.98,533.5 152.22,543.5 179.46,555.9 206.70,572.5 233.94,593.5 261.18,617.9 288.42,646.9 315.66,683.6" fill="none" stroke="#1ed3f0" stroke-width="1.4" stroke-linejoin="round"/>
<circle cx="70.50" cy="516.2" r="2.05" fill="#1ed3f0"/>
<circle cx="97.74" cy="527.7" r="2.05" fill="#1ed3f0"/>
<circle cx="124.98" cy="533.5" r="2.05" fill="#1ed3f0"/>
<circle cx="152.22" cy="543.5" r="2.05" fill="#1ed3f0"/>
<circle cx="179.46" cy="555.9" r="2.05" fill="#1ed3f0"/>
<circle cx="206.70" cy="572.5" r="2.05" fill="#1ed3f0"/>
<circle cx="233.94" cy="593.5" r="2.05" fill="#1ed3f0"/>
<circle cx="261.18" cy="617.9" r="2.05" fill="#1ed3f0"/>
<circle cx="288.42" cy="646.9" r="2.05" fill="#1ed3f0"/>
<circle cx="315.66" cy="683.6" r="2.05" fill="#1ed3f0"/>
<polyline points="70.50,516.2 97.74,524.9 124.98,527.2 152.22,530.9 179.46,537.9 206.70,549.6 233.94,568.2 261.18,594.3 288.42,626.8 315.66,668.7" fill="none" stroke="#f24b57" stroke-width="1.4" stroke-linejoin="round"/>
<circle cx="70.50" cy="516.2" r="2.05" fill="#f24b57"/>
<circle cx="97.74" cy="524.9" r="2.05" fill="#f24b57"/>
<circle cx="124.98" cy="527.2" r="2.05" fill="#f24b57"/>
<circle cx="152.22" cy="530.9" r="2.05" fill="#f24b57"/>
<circle cx="179.46" cy="537.9" r="2.05" fill="#f24b57"/>
<circle cx="206.70" cy="549.6" r="2.05" fill="#f24b57"/>
<circle cx="233.94" cy="568.2" r="2.05" fill="#f24b57"/>
<circle cx="261.18" cy="594.3" r="2.05" fill="#f24b57"/>
<circle cx="288.42" cy="626.8" r="2.05" fill="#f24b57"/>
<circle cx="315.66" cy="668.7" r="2.05" fill="#f24b57"/>
<polyline points="70.50,516.2 97.74,544.7 124.98,560.6 152.22,577.6 179.46,595.2 206.70,614.1 233.94,634 261.18,654 288.42,676.4 315.66,704.6" fill="none" stroke="#2196f3" stroke-width="1.4" stroke-linejoin="round"/>
<circle cx="70.50" cy="516.2" r="2.05" fill="#2196f3"/>
<circle cx="97.74" cy="544.7" r="2.05" fill="#2196f3"/>
<circle cx="124.98" cy="560.6" r="2.05" fill="#2196f3"/>
<circle cx="152.22" cy="577.6" r="2.05" fill="#2196f3"/>
<circle cx="179.46" cy="595.2" r="2.05" fill="#2196f3"/>
<circle cx="206.70" cy="614.1" r="2.05" fill="#2196f3"/>
<circle cx="233.94" cy="634" r="2.05" fill="#2196f3"/>
<circle cx="261.18" cy="654" r="2.05" fill="#2196f3"/>
<circle cx="288.42" cy="676.4" r="2.05" fill="#2196f3"/>
<circle cx="315.66" cy="704.6" r="2.05" fill="#2196f3"/>
<polyline points="70.50,516.2 97.74,546.3 124.98,561.8 152.22,578.8 179.46,596.3 206.70,615.3 233.94,635.4 261.18,655.8 288.42,677.9 315.66,704" fill="none" stroke="#6eab1e" stroke-width="1.4" stroke-linejoin="round"/>
<circle cx="70.50" cy="516.2" r="2.05" fill="#6eab1e"/>
<circle cx="97.74" cy="546.3" r="2.05" fill="#6eab1e"/>
<circle cx="124.98" cy="561.8" r="2.05" fill="#6eab1e"/>
<circle cx="152.22" cy="578.8" r="2.05" fill="#6eab1e"/>
<circle cx="179.46" cy="596.3" r="2.05" fill="#6eab1e"/>
<circle cx="206.70" cy="615.3" r="2.05" fill="#6eab1e"/>
<circle cx="233.94" cy="635.4" r="2.05" fill="#6eab1e"/>
<circle cx="261.18" cy="655.8" r="2.05" fill="#6eab1e"/>
<circle cx="288.42" cy="677.9" r="2.05" fill="#6eab1e"/>
<circle cx="315.66" cy="704" r="2.05" fill="#6eab1e"/>
<polyline points="70.50,516.2 97.74,524.9 124.98,533.5 152.22,545.4 179.46,562.2 206.70,581.7 233.94,603.2 261.18,627.3 288.42,653.8 315.66,687.9" fill="none" stroke="#f5bd1f" stroke-width="1.4" stroke-linejoin="round"/>
<circle cx="70.50" cy="516.2" r="2.05" fill="#f5bd1f"/>
<circle cx="97.74" cy="524.9" r="2.05" fill="#f5bd1f"/>
<circle cx="124.98" cy="533.5" r="2.05" fill="#f5bd1f"/>
<circle cx="152.22" cy="545.4" r="2.05" fill="#f5bd1f"/>
<circle cx="179.46" cy="562.2" r="2.05" fill="#f5bd1f"/>
<circle cx="206.70" cy="581.7" r="2.05" fill="#f5bd1f"/>
<circle cx="233.94" cy="603.2" r="2.05" fill="#f5bd1f"/>
<circle cx="261.18" cy="627.3" r="2.05" fill="#f5bd1f"/>
<circle cx="288.42" cy="653.8" r="2.05" fill="#f5bd1f"/>
<circle cx="315.66" cy="687.9" r="2.05" fill="#f5bd1f"/>
<polyline points="70.50,516.2 97.74,523.7 124.98,533.5 152.22,542.8 179.46,552.9 206.70,566.8 233.94,588 261.18,617.9 288.42,657.2 315.66,708" fill="none" stroke="#8282f5" stroke-width="1.4" stroke-linejoin="round"/>
<circle cx="70.50" cy="516.2" r="2.05" fill="#8282f5"/>
<circle cx="97.74" cy="523.7" r="2.05" fill="#8282f5"/>
<circle cx="124.98" cy="533.5" r="2.05" fill="#8282f5"/>
<circle cx="152.22" cy="542.8" r="2.05" fill="#8282f5"/>
<circle cx="179.46" cy="552.9" r="2.05" fill="#8282f5"/>
<circle cx="206.70" cy="566.8" r="2.05" fill="#8282f5"/>
<circle cx="233.94" cy="588" r="2.05" fill="#8282f5"/>
<circle cx="261.18" cy="617.9" r="2.05" fill="#8282f5"/>
<circle cx="288.42" cy="657.2" r="2.05" fill="#8282f5"/>
<circle cx="315.66" cy="708" r="2.05" fill="#8282f5"/>
<polyline points="412.50,516.2 439.74,523.2 466.98,526 494.22,530.9 521.46,537.7 548.70,547.3 575.94,560.8 603.18,580.8 630.42,612.4 657.66,669.8" fill="none" stroke="#1ed3f0" stroke-width="1.4" stroke-linejoin="round"/>
<circle cx="412.50" cy="516.2" r="2.05" fill="#1ed3f0"/>
<circle cx="439.74" cy="523.2" r="2.05" fill="#1ed3f0"/>
<circle cx="466.98" cy="526" r="2.05" fill="#1ed3f0"/>
<circle cx="494.22" cy="530.9" r="2.05" fill="#1ed3f0"/>
<circle cx="521.46" cy="537.7" r="2.05" fill="#1ed3f0"/>
<circle cx="548.70" cy="547.3" r="2.05" fill="#1ed3f0"/>
<circle cx="575.94" cy="560.8" r="2.05" fill="#1ed3f0"/>
<circle cx="603.18" cy="580.8" r="2.05" fill="#1ed3f0"/>
<circle cx="630.42" cy="612.4" r="2.05" fill="#1ed3f0"/>
<circle cx="657.66" cy="669.8" r="2.05" fill="#1ed3f0"/>
<polyline points="412.50,516.2 439.74,522.5 466.98,524.2 494.22,526.5 521.46,530.7 548.70,538.5 575.94,550.1 603.18,568.5 630.42,596.6 657.66,652" fill="none" stroke="#f24b57" stroke-width="1.4" stroke-linejoin="round"/>
<circle cx="412.50" cy="516.2" r="2.05" fill="#f24b57"/>
<circle cx="439.74" cy="522.5" r="2.05" fill="#f24b57"/>
<circle cx="466.98" cy="524.2" r="2.05" fill="#f24b57"/>
<circle cx="494.22" cy="526.5" r="2.05" fill="#f24b57"/>
<circle cx="521.46" cy="530.7" r="2.05" fill="#f24b57"/>
<circle cx="548.70" cy="538.5" r="2.05" fill="#f24b57"/>
<circle cx="575.94" cy="550.1" r="2.05" fill="#f24b57"/>
<circle cx="603.18" cy="568.5" r="2.05" fill="#f24b57"/>
<circle cx="630.42" cy="596.6" r="2.05" fill="#f24b57"/>
<circle cx="657.66" cy="652" r="2.05" fill="#f24b57"/>
<polyline points="412.50,516.2 439.74,529.1 466.98,536.3 494.22,545.4 521.46,555.9 548.70,569.3 575.94,586.3 603.18,609 630.42,641.4 657.66,692.8" fill="none" stroke="#2196f3" stroke-width="1.4" stroke-linejoin="round"/>
<circle cx="412.50" cy="516.2" r="2.05" fill="#2196f3"/>
<circle cx="439.74" cy="529.1" r="2.05" fill="#2196f3"/>
<circle cx="466.98" cy="536.3" r="2.05" fill="#2196f3"/>
<circle cx="494.22" cy="545.4" r="2.05" fill="#2196f3"/>
<circle cx="521.46" cy="555.9" r="2.05" fill="#2196f3"/>
<circle cx="548.70" cy="569.3" r="2.05" fill="#2196f3"/>
<circle cx="575.94" cy="586.3" r="2.05" fill="#2196f3"/>
<circle cx="603.18" cy="609" r="2.05" fill="#2196f3"/>
<circle cx="630.42" cy="641.4" r="2.05" fill="#2196f3"/>
<circle cx="657.66" cy="692.8" r="2.05" fill="#2196f3"/>
<polyline points="412.50,516.2 439.74,526.7 466.98,533.3 494.22,540.7 521.46,550.1 548.70,562.5 575.94,578.6 603.18,600.7 630.42,632.8 657.66,685" fill="none" stroke="#6eab1e" stroke-width="1.4" stroke-linejoin="round"/>
<circle cx="412.50" cy="516.2" r="2.05" fill="#6eab1e"/>
<circle cx="439.74" cy="526.7" r="2.05" fill="#6eab1e"/>
<circle cx="466.98" cy="533.3" r="2.05" fill="#6eab1e"/>
<circle cx="494.22" cy="540.7" r="2.05" fill="#6eab1e"/>
<circle cx="521.46" cy="550.1" r="2.05" fill="#6eab1e"/>
<circle cx="548.70" cy="562.5" r="2.05" fill="#6eab1e"/>
<circle cx="575.94" cy="578.6" r="2.05" fill="#6eab1e"/>
<circle cx="603.18" cy="600.7" r="2.05" fill="#6eab1e"/>
<circle cx="630.42" cy="632.8" r="2.05" fill="#6eab1e"/>
<circle cx="657.66" cy="685" r="2.05" fill="#6eab1e"/>
<polyline points="412.50,516.2 439.74,522 466.98,523.5 494.22,525.6 521.46,530.5 548.70,540 575.94,553.9 603.18,572.2 630.42,597.8 657.66,643.4" fill="none" stroke="#f5bd1f" stroke-width="1.4" stroke-linejoin="round"/>
<circle cx="412.50" cy="516.2" r="2.05" fill="#f5bd1f"/>
<circle cx="439.74" cy="522" r="2.05" fill="#f5bd1f"/>
<circle cx="466.98" cy="523.5" r="2.05" fill="#f5bd1f"/>
<circle cx="494.22" cy="525.6" r="2.05" fill="#f5bd1f"/>
<circle cx="521.46" cy="530.5" r="2.05" fill="#f5bd1f"/>
<circle cx="548.70" cy="540" r="2.05" fill="#f5bd1f"/>
<circle cx="575.94" cy="553.9" r="2.05" fill="#f5bd1f"/>
<circle cx="603.18" cy="572.2" r="2.05" fill="#f5bd1f"/>
<circle cx="630.42" cy="597.8" r="2.05" fill="#f5bd1f"/>
<circle cx="657.66" cy="643.4" r="2.05" fill="#f5bd1f"/>
<polyline points="412.50,516.2 439.74,520.2 466.98,522.5 494.22,526.7 521.46,532.6 548.70,541.6 575.94,555 603.18,576.5 630.42,613.3 657.66,687.9" fill="none" stroke="#8282f5" stroke-width="1.4" stroke-linejoin="round"/>
<circle cx="412.50" cy="516.2" r="2.05" fill="#8282f5"/>
<circle cx="439.74" cy="520.2" r="2.05" fill="#8282f5"/>
<circle cx="466.98" cy="522.5" r="2.05" fill="#8282f5"/>
<circle cx="494.22" cy="526.7" r="2.05" fill="#8282f5"/>
<circle cx="521.46" cy="532.6" r="2.05" fill="#8282f5"/>
<circle cx="548.70" cy="541.6" r="2.05" fill="#8282f5"/>
<circle cx="575.94" cy="555" r="2.05" fill="#8282f5"/>
<circle cx="603.18" cy="576.5" r="2.05" fill="#8282f5"/>
<circle cx="630.42" cy="613.3" r="2.05" fill="#8282f5"/>
<circle cx="657.66" cy="687.9" r="2.05" fill="#8282f5"/>
<text x="466.9" y="635.4" font-size="12.1" font-weight="bold" text-anchor="middle" fill="#000" >Reference Panels</text>
<path d="M431.5,646.10h8.6" stroke="#6fd6ef" stroke-width="1.8"/>
<circle cx="435.8" cy="646.10" r="2.3" fill="#6fd6ef"/>
<text x="444.2" y="650.30" font-size="12.2" font-weight="normal" text-anchor="start" fill="#000" >CHN100k</text>
<path d="M431.5,657.45h8.6" stroke="#e35c63" stroke-width="1.8"/>
<circle cx="435.8" cy="657.45" r="2.3" fill="#e35c63"/>
<text x="444.2" y="661.65" font-size="12.2" font-weight="normal" text-anchor="start" fill="#000" >ChinaMAP</text>
<path d="M431.5,668.80h8.6" stroke="#4a9cf0" stroke-width="1.8"/>
<circle cx="435.8" cy="668.80" r="2.3" fill="#4a9cf0"/>
<text x="444.2" y="673.00" font-size="12.2" font-weight="normal" text-anchor="start" fill="#000" >WBBC</text>
<path d="M431.5,680.15h8.6" stroke="#85a845" stroke-width="1.8"/>
<circle cx="435.8" cy="680.15" r="2.3" fill="#85a845"/>
<text x="444.2" y="684.35" font-size="12.2" font-weight="normal" text-anchor="start" fill="#000" >SEAD</text>
<path d="M431.5,691.50h8.6" stroke="#eab84a" stroke-width="1.8"/>
<circle cx="435.8" cy="691.50" r="2.3" fill="#eab84a"/>
<text x="444.2" y="695.70" font-size="12.2" font-weight="normal" text-anchor="start" fill="#000" >1KG</text>
<path d="M431.5,702.85h8.6" stroke="#8a8af0" stroke-width="1.8"/>
<circle cx="435.8" cy="702.85" r="2.3" fill="#8a8af0"/>
<text x="444.2" y="707.05" font-size="12.2" font-weight="normal" text-anchor="start" fill="#000" >TOPMed</text>
<text transform="translate(19.85,614.85) rotate(-90)" x="0" y="0" font-size="14.4" font-weight="bold" text-anchor="middle" fill="#000">Percentage of variants retained</text>
<text transform="translate(361.9,615.55) rotate(-90)" x="0" y="0" font-size="14.4" font-weight="bold" text-anchor="middle" fill="#000">Percentage of variants retained</text>
<text x="70.50" y="740.8" font-size="10.2" font-weight="normal" text-anchor="middle" fill="#222" >≥ 0.0</text>
<text x="412.50" y="740.8" font-size="10.2" font-weight="normal" text-anchor="middle" fill="#222" >≥ 0.0</text>
<text x="97.74" y="740.8" font-size="10.2" font-weight="normal" text-anchor="middle" fill="#222" >≥ 0.1</text>
<text x="439.74" y="740.8" font-size="10.2" font-weight="normal" text-anchor="middle" fill="#222" >≥ 0.1</text>
<text x="124.98" y="740.8" font-size="10.2" font-weight="normal" text-anchor="middle" fill="#222" >≥ 0.2</text>
<text x="466.98" y="740.8" font-size="10.2" font-weight="normal" text-anchor="middle" fill="#222" >≥ 0.2</text>
<text x="152.22" y="740.8" font-size="10.2" font-weight="normal" text-anchor="middle" fill="#222" >≥ 0.3</text>
<text x="494.22" y="740.8" font-size="10.2" font-weight="normal" text-anchor="middle" fill="#222" >≥ 0.3</text>
<text x="179.46" y="740.8" font-size="10.2" font-weight="normal" text-anchor="middle" fill="#222" >≥ 0.4</text>
<text x="521.46" y="740.8" font-size="10.2" font-weight="normal" text-anchor="middle" fill="#222" >≥ 0.4</text>
<text x="206.70" y="740.8" font-size="10.2" font-weight="normal" text-anchor="middle" fill="#222" >≥ 0.5</text>
<text x="548.70" y="740.8" font-size="10.2" font-weight="normal" text-anchor="middle" fill="#222" >≥ 0.5</text>
<text x="233.94" y="740.8" font-size="10.2" font-weight="normal" text-anchor="middle" fill="#222" >≥ 0.6</text>
<text x="575.94" y="740.8" font-size="10.2" font-weight="normal" text-anchor="middle" fill="#222" >≥ 0.6</text>
<text x="261.18" y="740.8" font-size="10.2" font-weight="normal" text-anchor="middle" fill="#222" >≥ 0.7</text>
<text x="603.18" y="740.8" font-size="10.2" font-weight="normal" text-anchor="middle" fill="#222" >≥ 0.7</text>
<text x="288.42" y="740.8" font-size="10.2" font-weight="normal" text-anchor="middle" fill="#222" >≥ 0.8</text>
<text x="630.42" y="740.8" font-size="10.2" font-weight="normal" text-anchor="middle" fill="#222" >≥ 0.8</text>
<text x="315.66" y="740.8" font-size="10.2" font-weight="normal" text-anchor="middle" fill="#222" >≥ 0.9</text>
<text x="657.66" y="740.8" font-size="10.2" font-weight="normal" text-anchor="middle" fill="#222" >≥ 0.9</text>
<text x="196.0" y="764.4" font-size="15.8" font-weight="bold" text-anchor="middle" fill="#000" >Imputation R<tspan font-weight="normal">²</tspan> Thresholds</text>
<text x="548.5" y="764.4" font-size="15.8" font-weight="bold" text-anchor="middle" fill="#000" >Imputation R<tspan font-weight="normal">²</tspan> Thresholds</text>
</svg></body></html>
